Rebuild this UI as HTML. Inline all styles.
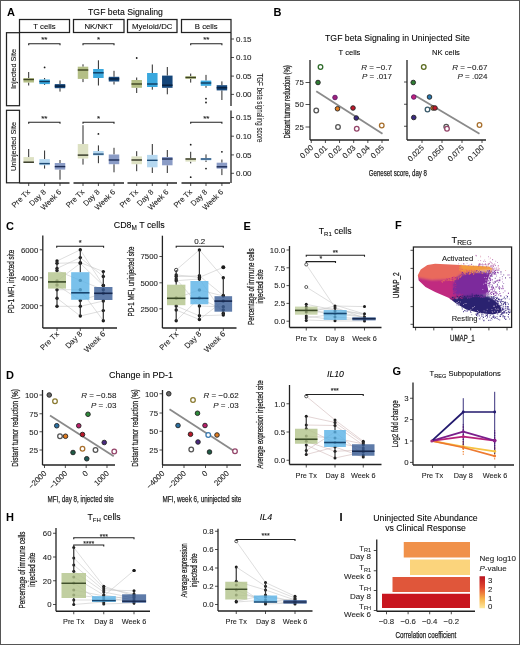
<!DOCTYPE html>
<html><head><meta charset="utf-8"><style>
html,body{margin:0;padding:0;background:#fff;width:520px;height:645px;overflow:hidden}
svg{display:block;will-change:transform}
text{font-family:"Liberation Sans",sans-serif}
</style></head><body>
<svg width="520" height="645" viewBox="0 0 520 645">
<rect width="520" height="645" fill="#fff"/>
<rect x="0.5" y="0.5" width="519" height="644" fill="none" stroke="#555" stroke-width="1"/>
<text x="7" y="16" font-size="11" font-weight="bold">A</text>
<text x="125.5" y="15" font-size="8.7" text-anchor="middle" stroke="#1a1a1a" stroke-width="0.08">TGF beta Signaling</text>
<rect x="19.5" y="19.5" width="50" height="13" fill="none" stroke="#222" stroke-width="1.25"/>
<text x="44.5" y="29.3" font-size="7.8" text-anchor="middle" stroke="#1a1a1a" stroke-width="0.08">T cells</text>
<rect x="73.5" y="19.5" width="50.5" height="13" fill="none" stroke="#222" stroke-width="1.25"/>
<text x="98.75" y="29.3" font-size="7.8" text-anchor="middle" stroke="#1a1a1a" stroke-width="0.08">NK/NKT</text>
<rect x="127.5" y="19.5" width="49.5" height="13" fill="none" stroke="#222" stroke-width="1.25"/>
<text x="152.25" y="29.3" font-size="7.8" text-anchor="middle" stroke="#1a1a1a" stroke-width="0.08">Myeloid/DC</text>
<rect x="181.5" y="19.5" width="49.5" height="13" fill="none" stroke="#222" stroke-width="1.25"/>
<text x="206.25" y="29.3" font-size="7.8" text-anchor="middle" stroke="#1a1a1a" stroke-width="0.08">B cells</text>
<rect x="6.5" y="32.7" width="13" height="73" fill="none" stroke="#222" stroke-width="1.25"/>
<text x="16" y="69" font-size="7.3" text-anchor="middle" transform="rotate(-90 16 69)" stroke="#1a1a1a" stroke-width="0.08">Injected Site</text>
<rect x="6.5" y="110.3" width="13" height="72.5" fill="none" stroke="#222" stroke-width="1.25"/>
<text x="16" y="146.5" font-size="7.3" text-anchor="middle" transform="rotate(-90 16 146.5)" stroke="#1a1a1a" stroke-width="0.08">Uninjected Site</text>
<line x1="28.7" y1="72" x2="28.7" y2="78.1" stroke="#2a2a2a" stroke-width="1"/>
<line x1="28.7" y1="82.5" x2="28.7" y2="85.5" stroke="#2a2a2a" stroke-width="1"/>
<rect x="23.45" y="78.1" width="10.5" height="4.4" fill="#b4bf86"/>
<line x1="23.45" y1="79.5" x2="33.95" y2="79.5" stroke="#3d4220" stroke-width="1.4"/>
<line x1="28.7" y1="149" x2="28.7" y2="157.1" stroke="#2a2a2a" stroke-width="1"/>
<line x1="28.7" y1="163" x2="28.7" y2="163" stroke="#2a2a2a" stroke-width="1"/>
<rect x="23.45" y="157.1" width="10.5" height="5.9" fill="#dde1c3"/>
<line x1="23.45" y1="162.2" x2="33.95" y2="162.2" stroke="#2e3120" stroke-width="1.4"/>
<line x1="44.6" y1="78" x2="44.6" y2="79.5" stroke="#2a2a2a" stroke-width="1"/>
<line x1="44.6" y1="84.1" x2="44.6" y2="85" stroke="#2a2a2a" stroke-width="1"/>
<rect x="39.35" y="79.5" width="10.5" height="4.6" fill="#3aa8de"/>
<line x1="39.35" y1="81.5" x2="49.85" y2="81.5" stroke="#0f3a5e" stroke-width="1.4"/>
<circle cx="44.6" cy="67.4" r="0.9" fill="#1a1a1a"/>
<line x1="44.6" y1="150.5" x2="44.6" y2="159.1" stroke="#2a2a2a" stroke-width="1"/>
<line x1="44.6" y1="165.2" x2="44.6" y2="168.6" stroke="#2a2a2a" stroke-width="1"/>
<rect x="39.35" y="159.1" width="10.5" height="6.1" fill="#b6d8f0"/>
<line x1="39.35" y1="163.6" x2="49.85" y2="163.6" stroke="#1d4a75" stroke-width="1.4"/>
<line x1="60" y1="80.5" x2="60" y2="84.1" stroke="#2a2a2a" stroke-width="1"/>
<line x1="60" y1="88.2" x2="60" y2="91.6" stroke="#2a2a2a" stroke-width="1"/>
<rect x="54.75" y="84.1" width="10.5" height="4.1" fill="#15467a"/>
<line x1="54.75" y1="86.1" x2="65.25" y2="86.1" stroke="#081f3c" stroke-width="1.4"/>
<line x1="60" y1="160" x2="60" y2="163" stroke="#2a2a2a" stroke-width="1"/>
<line x1="60" y1="169.6" x2="60" y2="179.7" stroke="#2a2a2a" stroke-width="1"/>
<rect x="54.75" y="163" width="10.5" height="6.6" fill="#8b9cc6"/>
<line x1="54.75" y1="166.6" x2="65.25" y2="166.6" stroke="#1b2b55" stroke-width="1.4"/>
<line x1="83" y1="64.3" x2="83" y2="66.7" stroke="#2a2a2a" stroke-width="1"/>
<line x1="83" y1="78.9" x2="83" y2="82.1" stroke="#2a2a2a" stroke-width="1"/>
<rect x="77.75" y="66.7" width="10.5" height="12.2" fill="#b4bf86"/>
<line x1="77.75" y1="70" x2="88.25" y2="70" stroke="#3d4220" stroke-width="1.4"/>
<line x1="83" y1="125.2" x2="83" y2="144" stroke="#2a2a2a" stroke-width="1"/>
<line x1="83" y1="158.5" x2="83" y2="164.6" stroke="#2a2a2a" stroke-width="1"/>
<rect x="77.75" y="144" width="10.5" height="14.5" fill="#dde1c3"/>
<line x1="77.75" y1="155.1" x2="88.25" y2="155.1" stroke="#2e3120" stroke-width="1.4"/>
<line x1="98.4" y1="60.3" x2="98.4" y2="69" stroke="#2a2a2a" stroke-width="1"/>
<line x1="98.4" y1="78" x2="98.4" y2="85.5" stroke="#2a2a2a" stroke-width="1"/>
<rect x="93.15" y="69" width="10.5" height="9" fill="#3aa8de"/>
<line x1="93.15" y1="72.8" x2="103.65" y2="72.8" stroke="#0f3a5e" stroke-width="1.4"/>
<line x1="98.4" y1="145.4" x2="98.4" y2="151" stroke="#2a2a2a" stroke-width="1"/>
<line x1="98.4" y1="155.5" x2="98.4" y2="163.2" stroke="#2a2a2a" stroke-width="1"/>
<rect x="93.15" y="151" width="10.5" height="4.5" fill="#b6d8f0"/>
<line x1="93.15" y1="154.1" x2="103.65" y2="154.1" stroke="#1d4a75" stroke-width="1.4"/>
<circle cx="98.4" cy="133.9" r="0.9" fill="#1a1a1a"/>
<line x1="114" y1="70.8" x2="114" y2="76.8" stroke="#2a2a2a" stroke-width="1"/>
<line x1="114" y1="81.5" x2="114" y2="84.5" stroke="#2a2a2a" stroke-width="1"/>
<rect x="108.75" y="76.8" width="10.5" height="4.7" fill="#15467a"/>
<line x1="108.75" y1="78.9" x2="119.25" y2="78.9" stroke="#081f3c" stroke-width="1.4"/>
<line x1="114" y1="147.8" x2="114" y2="154.5" stroke="#2a2a2a" stroke-width="1"/>
<line x1="114" y1="164.2" x2="114" y2="172.3" stroke="#2a2a2a" stroke-width="1"/>
<rect x="108.75" y="154.5" width="10.5" height="9.7" fill="#8b9cc6"/>
<line x1="108.75" y1="160" x2="119.25" y2="160" stroke="#1b2b55" stroke-width="1.4"/>
<line x1="136.7" y1="77.5" x2="136.7" y2="80" stroke="#2a2a2a" stroke-width="1"/>
<line x1="136.7" y1="87.8" x2="136.7" y2="93" stroke="#2a2a2a" stroke-width="1"/>
<rect x="131.45" y="80" width="10.5" height="7.8" fill="#b4bf86"/>
<line x1="131.45" y1="84" x2="141.95" y2="84" stroke="#3d4220" stroke-width="1.4"/>
<circle cx="136.7" cy="58" r="0.9" fill="#1a1a1a"/>
<line x1="136.7" y1="151.2" x2="136.7" y2="156.4" stroke="#2a2a2a" stroke-width="1"/>
<line x1="136.7" y1="164.2" x2="136.7" y2="171.2" stroke="#2a2a2a" stroke-width="1"/>
<rect x="131.45" y="156.4" width="10.5" height="7.8" fill="#dde1c3"/>
<line x1="131.45" y1="160" x2="141.95" y2="160" stroke="#2e3120" stroke-width="1.4"/>
<line x1="152.3" y1="64.5" x2="152.3" y2="73" stroke="#2a2a2a" stroke-width="1"/>
<line x1="152.3" y1="87" x2="152.3" y2="89.7" stroke="#2a2a2a" stroke-width="1"/>
<rect x="147.05" y="73" width="10.5" height="14" fill="#3aa8de"/>
<line x1="147.05" y1="84" x2="157.55" y2="84" stroke="#0f3a5e" stroke-width="1.4"/>
<line x1="152.3" y1="144" x2="152.3" y2="154.9" stroke="#2a2a2a" stroke-width="1"/>
<line x1="152.3" y1="167.3" x2="152.3" y2="173" stroke="#2a2a2a" stroke-width="1"/>
<rect x="147.05" y="154.9" width="10.5" height="12.4" fill="#b6d8f0"/>
<line x1="147.05" y1="160.3" x2="157.55" y2="160.3" stroke="#1d4a75" stroke-width="1.4"/>
<line x1="167.3" y1="67" x2="167.3" y2="75.6" stroke="#2a2a2a" stroke-width="1"/>
<line x1="167.3" y1="87.8" x2="167.3" y2="94.3" stroke="#2a2a2a" stroke-width="1"/>
<rect x="162.05" y="75.6" width="10.5" height="12.2" fill="#15467a"/>
<line x1="162.05" y1="85.2" x2="172.55" y2="85.2" stroke="#081f3c" stroke-width="1.4"/>
<line x1="167.3" y1="150" x2="167.3" y2="157" stroke="#2a2a2a" stroke-width="1"/>
<line x1="167.3" y1="165.3" x2="167.3" y2="173" stroke="#2a2a2a" stroke-width="1"/>
<rect x="162.05" y="157" width="10.5" height="8.3" fill="#8b9cc6"/>
<line x1="162.05" y1="159" x2="172.55" y2="159" stroke="#1b2b55" stroke-width="1.4"/>
<line x1="190.7" y1="73.6" x2="190.7" y2="76.2" stroke="#2a2a2a" stroke-width="1"/>
<line x1="190.7" y1="78.8" x2="190.7" y2="82.6" stroke="#2a2a2a" stroke-width="1"/>
<rect x="185.45" y="76.2" width="10.5" height="2.6" fill="#b4bf86"/>
<line x1="185.45" y1="77.5" x2="195.95" y2="77.5" stroke="#3d4220" stroke-width="1.4"/>
<line x1="190.7" y1="151.8" x2="190.7" y2="158.2" stroke="#2a2a2a" stroke-width="1"/>
<line x1="190.7" y1="161.6" x2="190.7" y2="163.4" stroke="#2a2a2a" stroke-width="1"/>
<rect x="185.45" y="158.2" width="10.5" height="3.4" fill="#dde1c3"/>
<line x1="185.45" y1="159" x2="195.95" y2="159" stroke="#2e3120" stroke-width="1.4"/>
<circle cx="190.7" cy="144.7" r="0.9" fill="#1a1a1a"/>
<circle cx="190.7" cy="177.2" r="0.9" fill="#1a1a1a"/>
<line x1="206" y1="74.9" x2="206" y2="80.6" stroke="#2a2a2a" stroke-width="1"/>
<line x1="206" y1="85.8" x2="206" y2="87.8" stroke="#2a2a2a" stroke-width="1"/>
<rect x="200.75" y="80.6" width="10.5" height="5.2" fill="#3aa8de"/>
<line x1="200.75" y1="83" x2="211.25" y2="83" stroke="#0f3a5e" stroke-width="1.4"/>
<circle cx="206" cy="98.7" r="0.9" fill="#1a1a1a"/>
<circle cx="206" cy="102.5" r="0.9" fill="#1a1a1a"/>
<line x1="206" y1="154.4" x2="206" y2="158.2" stroke="#2a2a2a" stroke-width="1"/>
<line x1="206" y1="160.3" x2="206" y2="162" stroke="#2a2a2a" stroke-width="1"/>
<rect x="200.75" y="158.2" width="10.5" height="2.1" fill="#b6d8f0"/>
<line x1="200.75" y1="159" x2="211.25" y2="159" stroke="#1d4a75" stroke-width="1.4"/>
<circle cx="206" cy="168.6" r="0.9" fill="#1a1a1a"/>
<line x1="221.9" y1="81.4" x2="221.9" y2="85.2" stroke="#2a2a2a" stroke-width="1"/>
<line x1="221.9" y1="90.4" x2="221.9" y2="100" stroke="#2a2a2a" stroke-width="1"/>
<rect x="216.65" y="85.2" width="10.5" height="5.2" fill="#15467a"/>
<line x1="216.65" y1="87.8" x2="227.15" y2="87.8" stroke="#081f3c" stroke-width="1.4"/>
<line x1="221.9" y1="159.5" x2="221.9" y2="162.7" stroke="#2a2a2a" stroke-width="1"/>
<line x1="221.9" y1="168.6" x2="221.9" y2="175.1" stroke="#2a2a2a" stroke-width="1"/>
<rect x="216.65" y="162.7" width="10.5" height="5.9" fill="#8b9cc6"/>
<line x1="216.65" y1="166.8" x2="227.15" y2="166.8" stroke="#1b2b55" stroke-width="1.4"/>
<circle cx="221.9" cy="151.8" r="0.9" fill="#1a1a1a"/>
<polyline points="28.7,45.2 28.7,43.7 60,43.7 60,45.2" stroke="#222" stroke-width="1.1" fill="none"/>
<text x="44.35" y="41.76" font-size="8" text-anchor="middle" fill="#222" stroke="#222" stroke-width="0.12">**</text>
<polyline points="83,45.2 83,43.7 114,43.7 114,45.2" stroke="#222" stroke-width="1.1" fill="none"/>
<text x="98.5" y="41.76" font-size="8" text-anchor="middle" fill="#222" stroke="#222" stroke-width="0.12">*</text>
<polyline points="190.7,45.2 190.7,43.7 221.9,43.7 221.9,45.2" stroke="#222" stroke-width="1.1" fill="none"/>
<text x="206.3" y="41.76" font-size="8" text-anchor="middle" fill="#222" stroke="#222" stroke-width="0.12">**</text>
<polyline points="28.7,123.8 28.7,122.3 60,122.3 60,123.8" stroke="#222" stroke-width="1.1" fill="none"/>
<text x="44.35" y="120.96" font-size="8" text-anchor="middle" fill="#222" stroke="#222" stroke-width="0.12">**</text>
<polyline points="83,123.8 83,122.3 114,122.3 114,123.8" stroke="#222" stroke-width="1.1" fill="none"/>
<text x="98.5" y="120.96" font-size="8" text-anchor="middle" fill="#222" stroke="#222" stroke-width="0.12">*</text>
<polyline points="190.7,123.8 190.7,122.3 221.9,122.3 221.9,123.8" stroke="#222" stroke-width="1.1" fill="none"/>
<text x="206.3" y="120.96" font-size="8" text-anchor="middle" fill="#222" stroke="#222" stroke-width="0.12">**</text>
<line x1="231" y1="33" x2="231" y2="106" stroke="#222" stroke-width="1.3"/>
<line x1="231" y1="39" x2="234" y2="39" stroke="#222" stroke-width="0.8"/>
<text x="236" y="41.7" font-size="8" fill="#222" stroke="#222" stroke-width="0.08">0.15</text>
<line x1="231" y1="57.5" x2="234" y2="57.5" stroke="#222" stroke-width="0.8"/>
<text x="236" y="60.2" font-size="8" fill="#222" stroke="#222" stroke-width="0.08">0.10</text>
<line x1="231" y1="76.1" x2="234" y2="76.1" stroke="#222" stroke-width="0.8"/>
<text x="236" y="78.8" font-size="8" fill="#222" stroke="#222" stroke-width="0.08">0.05</text>
<line x1="231" y1="94.4" x2="234" y2="94.4" stroke="#222" stroke-width="0.8"/>
<text x="236" y="97.1" font-size="8" fill="#222" stroke="#222" stroke-width="0.08">0.00</text>
<line x1="231" y1="110.5" x2="231" y2="183" stroke="#222" stroke-width="1.3"/>
<line x1="231" y1="117.5" x2="234" y2="117.5" stroke="#222" stroke-width="0.8"/>
<text x="236" y="120.2" font-size="8" fill="#222" stroke="#222" stroke-width="0.08">0.15</text>
<line x1="231" y1="136.2" x2="234" y2="136.2" stroke="#222" stroke-width="0.8"/>
<text x="236" y="138.9" font-size="8" fill="#222" stroke="#222" stroke-width="0.08">0.10</text>
<line x1="231" y1="154.9" x2="234" y2="154.9" stroke="#222" stroke-width="0.8"/>
<text x="236" y="157.6" font-size="8" fill="#222" stroke="#222" stroke-width="0.08">0.05</text>
<line x1="231" y1="173.3" x2="234" y2="173.3" stroke="#222" stroke-width="0.8"/>
<text x="236" y="176" font-size="8" fill="#222" stroke="#222" stroke-width="0.08">0.00</text>
<text x="256.5" y="108" font-size="8.5" text-anchor="middle" fill="#222" transform="rotate(90 256.5 108)" textLength="69" lengthAdjust="spacingAndGlyphs" stroke="#222" stroke-width="0.08">TGF beta signaling score</text>
<line x1="19.5" y1="183" x2="69.5" y2="183" stroke="#222" stroke-width="1.3"/>
<line x1="28.7" y1="183" x2="28.7" y2="186" stroke="#222" stroke-width="0.8"/>
<text x="30.5" y="192.5" font-size="7.6" text-anchor="end" fill="#222" transform="rotate(-45 30.5 192.5)" stroke="#222" stroke-width="0.08">Pre Tx</text>
<line x1="44.6" y1="183" x2="44.6" y2="186" stroke="#222" stroke-width="0.8"/>
<text x="46.4" y="192.5" font-size="7.6" text-anchor="end" fill="#222" transform="rotate(-45 46.4 192.5)" stroke="#222" stroke-width="0.08">Day 8</text>
<line x1="60" y1="183" x2="60" y2="186" stroke="#222" stroke-width="0.8"/>
<text x="61.8" y="192.5" font-size="7.6" text-anchor="end" fill="#222" transform="rotate(-45 61.8 192.5)" stroke="#222" stroke-width="0.08">Week 6</text>
<line x1="73.5" y1="183" x2="124" y2="183" stroke="#222" stroke-width="1.3"/>
<line x1="83" y1="183" x2="83" y2="186" stroke="#222" stroke-width="0.8"/>
<text x="84.8" y="192.5" font-size="7.6" text-anchor="end" fill="#222" transform="rotate(-45 84.8 192.5)" stroke="#222" stroke-width="0.08">Pre Tx</text>
<line x1="98.4" y1="183" x2="98.4" y2="186" stroke="#222" stroke-width="0.8"/>
<text x="100.2" y="192.5" font-size="7.6" text-anchor="end" fill="#222" transform="rotate(-45 100.2 192.5)" stroke="#222" stroke-width="0.08">Day 8</text>
<line x1="114" y1="183" x2="114" y2="186" stroke="#222" stroke-width="0.8"/>
<text x="115.8" y="192.5" font-size="7.6" text-anchor="end" fill="#222" transform="rotate(-45 115.8 192.5)" stroke="#222" stroke-width="0.08">Week 6</text>
<line x1="127.5" y1="183" x2="177" y2="183" stroke="#222" stroke-width="1.3"/>
<line x1="136.7" y1="183" x2="136.7" y2="186" stroke="#222" stroke-width="0.8"/>
<text x="138.5" y="192.5" font-size="7.6" text-anchor="end" fill="#222" transform="rotate(-45 138.5 192.5)" stroke="#222" stroke-width="0.08">Pre Tx</text>
<line x1="152.3" y1="183" x2="152.3" y2="186" stroke="#222" stroke-width="0.8"/>
<text x="154.1" y="192.5" font-size="7.6" text-anchor="end" fill="#222" transform="rotate(-45 154.1 192.5)" stroke="#222" stroke-width="0.08">Day 8</text>
<line x1="167.3" y1="183" x2="167.3" y2="186" stroke="#222" stroke-width="0.8"/>
<text x="169.1" y="192.5" font-size="7.6" text-anchor="end" fill="#222" transform="rotate(-45 169.1 192.5)" stroke="#222" stroke-width="0.08">Week 6</text>
<line x1="181.5" y1="183" x2="230" y2="183" stroke="#222" stroke-width="1.3"/>
<line x1="190.7" y1="183" x2="190.7" y2="186" stroke="#222" stroke-width="0.8"/>
<text x="192.5" y="192.5" font-size="7.6" text-anchor="end" fill="#222" transform="rotate(-45 192.5 192.5)" stroke="#222" stroke-width="0.08">Pre Tx</text>
<line x1="206" y1="183" x2="206" y2="186" stroke="#222" stroke-width="0.8"/>
<text x="207.8" y="192.5" font-size="7.6" text-anchor="end" fill="#222" transform="rotate(-45 207.8 192.5)" stroke="#222" stroke-width="0.08">Day 8</text>
<line x1="221.9" y1="183" x2="221.9" y2="186" stroke="#222" stroke-width="0.8"/>
<text x="223.7" y="192.5" font-size="7.6" text-anchor="end" fill="#222" transform="rotate(-45 223.7 192.5)" stroke="#222" stroke-width="0.08">Week 6</text>
<text x="273.5" y="16" font-size="11" font-weight="bold">B</text>
<text x="397.5" y="40.5" font-size="8.7" text-anchor="middle" stroke="#1a1a1a" stroke-width="0.08">TGF beta Signaling in Uninjected Site</text>
<text x="349.5" y="55" font-size="7.6" text-anchor="middle" stroke="#1a1a1a" stroke-width="0.08">T cells</text>
<text x="446" y="55" font-size="7.6" text-anchor="middle" stroke="#1a1a1a" stroke-width="0.08">NK cells</text>
<line x1="310" y1="60" x2="310" y2="140" stroke="#222" stroke-width="1.3"/>
<line x1="310" y1="140" x2="389" y2="140" stroke="#222" stroke-width="1.3"/>
<line x1="305.5" y1="82.5" x2="310" y2="82.5" stroke="#222" stroke-width="0.8"/>
<text x="303.8" y="85.3" font-size="7.8" text-anchor="end" fill="#222" stroke="#222" stroke-width="0.08">75</text>
<line x1="305.5" y1="104.5" x2="310" y2="104.5" stroke="#222" stroke-width="0.8"/>
<text x="303.8" y="107.3" font-size="7.8" text-anchor="end" fill="#222" stroke="#222" stroke-width="0.08">50</text>
<line x1="305.5" y1="127" x2="310" y2="127" stroke="#222" stroke-width="0.8"/>
<text x="303.8" y="129.8" font-size="7.8" text-anchor="end" fill="#222" stroke="#222" stroke-width="0.08">25</text>
<line x1="311.25" y1="140" x2="311.25" y2="143" stroke="#222" stroke-width="0.8"/>
<text x="313.75" y="148.3" font-size="7.8" text-anchor="end" fill="#222" transform="rotate(-45 313.75 148.3)" stroke="#222" stroke-width="0.08">0.00</text>
<line x1="325.4" y1="140" x2="325.4" y2="143" stroke="#222" stroke-width="0.8"/>
<text x="327.9" y="148.3" font-size="7.8" text-anchor="end" fill="#222" transform="rotate(-45 327.9 148.3)" stroke="#222" stroke-width="0.08">0.01</text>
<line x1="339.55" y1="140" x2="339.55" y2="143" stroke="#222" stroke-width="0.8"/>
<text x="342.05" y="148.3" font-size="7.8" text-anchor="end" fill="#222" transform="rotate(-45 342.05 148.3)" stroke="#222" stroke-width="0.08">0.02</text>
<line x1="353.7" y1="140" x2="353.7" y2="143" stroke="#222" stroke-width="0.8"/>
<text x="356.2" y="148.3" font-size="7.8" text-anchor="end" fill="#222" transform="rotate(-45 356.2 148.3)" stroke="#222" stroke-width="0.08">0.03</text>
<line x1="367.85" y1="140" x2="367.85" y2="143" stroke="#222" stroke-width="0.8"/>
<text x="370.35" y="148.3" font-size="7.8" text-anchor="end" fill="#222" transform="rotate(-45 370.35 148.3)" stroke="#222" stroke-width="0.08">0.04</text>
<line x1="382" y1="140" x2="382" y2="143" stroke="#222" stroke-width="0.8"/>
<text x="384.5" y="148.3" font-size="7.8" text-anchor="end" fill="#222" transform="rotate(-45 384.5 148.3)" stroke="#222" stroke-width="0.08">0.05</text>
<line x1="316.25" y1="91.25" x2="382.5" y2="133.75" stroke="#8a8a8a" stroke-width="1.8"/>
<circle cx="320.5" cy="67" r="2.3" fill="#fff" stroke="#2f6b2a" stroke-width="1.3"/>
<circle cx="318" cy="82.5" r="2.3" fill="#2e7d32" stroke="#222" stroke-width="0.9"/>
<circle cx="335" cy="97.5" r="2.3" fill="#a0207a" stroke="#5a1a6a" stroke-width="0.9"/>
<circle cx="316.25" cy="110.5" r="2.3" fill="#fff" stroke="#555" stroke-width="1.3"/>
<circle cx="337.5" cy="108.75" r="2.3" fill="#e07b1f" stroke="#222" stroke-width="0.9"/>
<circle cx="338" cy="127" r="2.3" fill="#fff" stroke="#555" stroke-width="1.3"/>
<circle cx="353" cy="108" r="2.3" fill="#c2182b" stroke="#222" stroke-width="0.9"/>
<circle cx="356.25" cy="118" r="2.3" fill="#3a2a80" stroke="#222" stroke-width="0.9"/>
<circle cx="356.75" cy="128.75" r="2.3" fill="#fff" stroke="#94456a" stroke-width="1.3"/>
<circle cx="381.75" cy="125.5" r="2.3" fill="#fff" stroke="#a8702e" stroke-width="1.3"/>
<text x="290.2" y="101.9" font-size="8.6" text-anchor="middle" fill="#222" transform="rotate(-90 290.2 101.9)" textLength="73.4" lengthAdjust="spacingAndGlyphs" stroke="#222" stroke-width="0.25">Distant tumor reduction (%)</text>
<text x="397.9" y="175.6" font-size="9.4" text-anchor="middle" fill="#222" textLength="58.2" lengthAdjust="spacingAndGlyphs" stroke="#222" stroke-width="0.25">Geneset score, day 8</text>
<text x="392" y="70" font-size="8" text-anchor="end" fill="#222" stroke="#222" stroke-width="0.08"><tspan font-style="italic">R</tspan> = −0.7</text>
<text x="392" y="79" font-size="8" text-anchor="end" fill="#222" stroke="#222" stroke-width="0.08"><tspan font-style="italic">P</tspan> = .017</text>
<line x1="407" y1="60" x2="407" y2="140" stroke="#222" stroke-width="1.3"/>
<line x1="407" y1="140" x2="486" y2="140" stroke="#222" stroke-width="1.3"/>
<line x1="404" y1="82" x2="407" y2="82" stroke="#222" stroke-width="0.8"/>
<line x1="404" y1="104.25" x2="407" y2="104.25" stroke="#222" stroke-width="0.8"/>
<line x1="404" y1="126.25" x2="407" y2="126.25" stroke="#222" stroke-width="0.8"/>
<line x1="422" y1="140" x2="422" y2="143" stroke="#222" stroke-width="0.8"/>
<text x="424.5" y="148.3" font-size="7.8" text-anchor="end" fill="#222" transform="rotate(-45 424.5 148.3)" stroke="#222" stroke-width="0.08">0.025</text>
<line x1="442" y1="140" x2="442" y2="143" stroke="#222" stroke-width="0.8"/>
<text x="444.5" y="148.3" font-size="7.8" text-anchor="end" fill="#222" transform="rotate(-45 444.5 148.3)" stroke="#222" stroke-width="0.08">0.050</text>
<line x1="462" y1="140" x2="462" y2="143" stroke="#222" stroke-width="0.8"/>
<text x="464.5" y="148.3" font-size="7.8" text-anchor="end" fill="#222" transform="rotate(-45 464.5 148.3)" stroke="#222" stroke-width="0.08">0.075</text>
<line x1="482" y1="140" x2="482" y2="143" stroke="#222" stroke-width="0.8"/>
<text x="484.5" y="148.3" font-size="7.8" text-anchor="end" fill="#222" transform="rotate(-45 484.5 148.3)" stroke="#222" stroke-width="0.08">0.100</text>
<line x1="415" y1="95.5" x2="479.5" y2="133.75" stroke="#8a8a8a" stroke-width="1.8"/>
<circle cx="423.75" cy="67" r="2.3" fill="#fff" stroke="#5a6a20" stroke-width="1.3"/>
<circle cx="413.25" cy="82.5" r="2.3" fill="#2e7d32" stroke="#222" stroke-width="0.9"/>
<circle cx="413.75" cy="97" r="2.3" fill="#c2207a" stroke="#5a1a6a" stroke-width="0.9"/>
<circle cx="429.5" cy="97" r="2.3" fill="#2a7ab0" stroke="#222" stroke-width="0.9"/>
<circle cx="427.5" cy="109.5" r="2.3" fill="#fff" stroke="#3a5a6a" stroke-width="1.3"/>
<circle cx="433" cy="108" r="2.3" fill="#e07b1f" stroke="#222" stroke-width="0.9"/>
<circle cx="435" cy="108" r="2.3" fill="#c2182b" stroke="#222" stroke-width="0.9"/>
<circle cx="413.75" cy="117.5" r="2.3" fill="#3a2a80" stroke="#222" stroke-width="0.9"/>
<circle cx="446.25" cy="126.75" r="2.3" fill="#fff" stroke="#555" stroke-width="1.3"/>
<circle cx="447" cy="128.75" r="2.3" fill="#fff" stroke="#94456a" stroke-width="1.3"/>
<circle cx="479.5" cy="125" r="2.3" fill="#fff" stroke="#a8702e" stroke-width="1.3"/>
<text x="487.5" y="70" font-size="8" text-anchor="end" fill="#222" stroke="#222" stroke-width="0.08"><tspan font-style="italic">R</tspan> = −0.67</text>
<text x="487.5" y="79" font-size="8" text-anchor="end" fill="#222" stroke="#222" stroke-width="0.08"><tspan font-style="italic">P</tspan> = .024</text>
<text x="6" y="230" font-size="11" font-weight="bold">C</text>
<text x="113.8" y="228.2" font-size="8.9" stroke="#1a1a1a" stroke-width="0.08">CD8<tspan font-size="6.4" dy="2">M</tspan><tspan dy="-2"> T cells</tspan></text>
<line x1="42.8" y1="235.4" x2="42.8" y2="328" stroke="#222" stroke-width="1.3"/>
<line x1="39.8" y1="249.8" x2="42.8" y2="249.8" stroke="#222" stroke-width="0.8"/>
<text x="38.3" y="252.6" font-size="7.8" text-anchor="end" fill="#222" stroke="#222" stroke-width="0.08">6000</text>
<line x1="39.8" y1="277.8" x2="42.8" y2="277.8" stroke="#222" stroke-width="0.8"/>
<text x="38.3" y="280.6" font-size="7.8" text-anchor="end" fill="#222" stroke="#222" stroke-width="0.08">4000</text>
<line x1="39.8" y1="305.7" x2="42.8" y2="305.7" stroke="#222" stroke-width="0.8"/>
<text x="38.3" y="308.5" font-size="7.8" text-anchor="end" fill="#222" stroke="#222" stroke-width="0.08">2000</text>
<line x1="42.8" y1="328" x2="117" y2="328" stroke="#222" stroke-width="1.3"/>
<polyline points="57,261 80.3,249.8 103.3,285.5" stroke="#c8c8c8" stroke-width="0.6" fill="none"/>
<polyline points="57,263.3 80.3,262.6 103.3,271.6" stroke="#c8c8c8" stroke-width="0.6" fill="none"/>
<polyline points="57,268.4 80.3,257.6 103.3,276.5" stroke="#c8c8c8" stroke-width="0.6" fill="none"/>
<polyline points="57,270.6 80.3,280.4 103.3,289.7" stroke="#c8c8c8" stroke-width="0.6" fill="none"/>
<polyline points="57,285 80.3,300.5 103.3,293.3" stroke="#c8c8c8" stroke-width="0.6" fill="none"/>
<polyline points="57,289.7 80.3,289.7 103.3,320.7" stroke="#c8c8c8" stroke-width="0.6" fill="none"/>
<polyline points="57,298.2 80.3,316 103.3,310.6" stroke="#c8c8c8" stroke-width="0.6" fill="none"/>
<polyline points="57,306.3 80.3,306.3 103.3,301" stroke="#c8c8c8" stroke-width="0.6" fill="none"/>
<polyline points="57,281 80.3,263.3 103.3,285.5" stroke="#c8c8c8" stroke-width="0.6" fill="none"/>
<circle cx="57" cy="261" r="1.7" fill="#1a1a1a"/>
<circle cx="57" cy="263.3" r="1.7" fill="#1a1a1a"/>
<circle cx="57" cy="268.4" r="1.7" fill="#1a1a1a"/>
<circle cx="57" cy="270.6" r="1.7" fill="#1a1a1a"/>
<circle cx="57" cy="285" r="1.7" fill="#1a1a1a"/>
<circle cx="57" cy="289.7" r="1.7" fill="#1a1a1a"/>
<circle cx="57" cy="298.2" r="1.7" fill="#1a1a1a"/>
<circle cx="57" cy="306.3" r="1.7" fill="#1a1a1a"/>
<circle cx="57" cy="281" r="1.7" fill="#1a1a1a"/>
<circle cx="80.3" cy="249.8" r="1.7" fill="#1a1a1a"/>
<circle cx="80.3" cy="262.6" r="1.7" fill="#1a1a1a"/>
<circle cx="80.3" cy="257.6" r="1.7" fill="#1a1a1a"/>
<circle cx="80.3" cy="280.4" r="1.7" fill="#1a1a1a"/>
<circle cx="80.3" cy="300.5" r="1.7" fill="#1a1a1a"/>
<circle cx="80.3" cy="289.7" r="1.7" fill="#1a1a1a"/>
<circle cx="80.3" cy="316" r="1.7" fill="#1a1a1a"/>
<circle cx="80.3" cy="306.3" r="1.7" fill="#1a1a1a"/>
<circle cx="80.3" cy="263.3" r="1.7" fill="#1a1a1a"/>
<circle cx="103.3" cy="285.5" r="1.7" fill="#1a1a1a"/>
<circle cx="103.3" cy="271.6" r="1.7" fill="#1a1a1a"/>
<circle cx="103.3" cy="276.5" r="1.7" fill="#1a1a1a"/>
<circle cx="103.3" cy="289.7" r="1.7" fill="#1a1a1a"/>
<circle cx="103.3" cy="293.3" r="1.7" fill="#1a1a1a"/>
<circle cx="103.3" cy="320.7" r="1.7" fill="#1a1a1a"/>
<circle cx="103.3" cy="310.6" r="1.7" fill="#1a1a1a"/>
<circle cx="103.3" cy="301" r="1.7" fill="#1a1a1a"/>
<circle cx="103.3" cy="285.5" r="1.7" fill="#1a1a1a"/>
<line x1="57" y1="261" x2="57" y2="272.2" stroke="#333" stroke-width="1.2"/>
<line x1="57" y1="288.6" x2="57" y2="306.3" stroke="#333" stroke-width="1.2"/>
<rect x="48" y="272.2" width="18" height="16.4" fill="#b3c48c" fill-opacity="0.82"/>
<line x1="48" y1="281.9" x2="66" y2="281.9" stroke="#3a4a26" stroke-width="1.6"/>
<line x1="80.3" y1="249.8" x2="80.3" y2="272.2" stroke="#333" stroke-width="1.2"/>
<line x1="80.3" y1="299.8" x2="80.3" y2="316" stroke="#333" stroke-width="1.2"/>
<rect x="71.15" y="272.2" width="18.3" height="27.6" fill="#5db3e6" fill-opacity="0.82"/>
<line x1="71.15" y1="292.8" x2="89.45" y2="292.8" stroke="#17466f" stroke-width="1.6"/>
<line x1="103.3" y1="271.6" x2="103.3" y2="287" stroke="#333" stroke-width="1.2"/>
<line x1="103.3" y1="300" x2="103.3" y2="320.7" stroke="#333" stroke-width="1.2"/>
<rect x="94.15" y="287" width="18.3" height="13" fill="#3b5e96" fill-opacity="0.82"/>
<line x1="94.15" y1="293.3" x2="112.45" y2="293.3" stroke="#17284e" stroke-width="1.6"/>
<polyline points="56.7,247.8 56.7,246.3 103.6,246.3 103.6,247.8" stroke="#222" stroke-width="1.1" fill="none"/>
<text x="80.15" y="244.5" font-size="7.5" text-anchor="middle" fill="#222" stroke="#222" stroke-width="0.12">*</text>
<line x1="57" y1="328" x2="57" y2="331" stroke="#222" stroke-width="0.8"/>
<text x="59.5" y="334.5" font-size="7.8" text-anchor="end" fill="#222" transform="rotate(-45 59.5 334.5)" stroke="#222" stroke-width="0.08">Pre Tx</text>
<line x1="80.3" y1="328" x2="80.3" y2="331" stroke="#222" stroke-width="0.8"/>
<text x="82.8" y="334.5" font-size="7.8" text-anchor="end" fill="#222" transform="rotate(-45 82.8 334.5)" stroke="#222" stroke-width="0.08">Day 8</text>
<line x1="103.3" y1="328" x2="103.3" y2="331" stroke="#222" stroke-width="0.8"/>
<text x="105.8" y="334.5" font-size="7.8" text-anchor="end" fill="#222" transform="rotate(-45 105.8 334.5)" stroke="#222" stroke-width="0.08">Week 6</text>
<text x="14.3" y="281.5" font-size="8.6" text-anchor="middle" fill="#222" transform="rotate(-90 14.3 281.5)" textLength="63.6" lengthAdjust="spacingAndGlyphs" stroke="#222" stroke-width="0.25">PD-1 MFI, injected site</text>
<line x1="162.4" y1="235.7" x2="162.4" y2="328" stroke="#222" stroke-width="1.3"/>
<line x1="159.4" y1="256.5" x2="162.4" y2="256.5" stroke="#222" stroke-width="0.8"/>
<text x="157.9" y="259.3" font-size="7.8" text-anchor="end" fill="#222" stroke="#222" stroke-width="0.08">7500</text>
<line x1="159.4" y1="282.8" x2="162.4" y2="282.8" stroke="#222" stroke-width="0.8"/>
<text x="157.9" y="285.6" font-size="7.8" text-anchor="end" fill="#222" stroke="#222" stroke-width="0.08">5000</text>
<line x1="159.4" y1="308.8" x2="162.4" y2="308.8" stroke="#222" stroke-width="0.8"/>
<text x="157.9" y="311.6" font-size="7.8" text-anchor="end" fill="#222" stroke="#222" stroke-width="0.08">2500</text>
<line x1="162.4" y1="328" x2="236.5" y2="328" stroke="#222" stroke-width="1.3"/>
<polyline points="176.2,270 199.4,249.9 223.3,277.7" stroke="#c8c8c8" stroke-width="0.6" fill="none"/>
<polyline points="176.2,274.9 199.4,277.4 223.3,267.3" stroke="#c8c8c8" stroke-width="0.6" fill="none"/>
<polyline points="176.2,276.6 199.4,275.8 223.3,295.4" stroke="#c8c8c8" stroke-width="0.6" fill="none"/>
<polyline points="176.2,279 199.4,306 223.3,306.8" stroke="#c8c8c8" stroke-width="0.6" fill="none"/>
<polyline points="176.2,280.7 199.4,279 223.3,313.3" stroke="#c8c8c8" stroke-width="0.6" fill="none"/>
<polyline points="176.2,306 199.4,315.8 223.3,315" stroke="#c8c8c8" stroke-width="0.6" fill="none"/>
<polyline points="176.2,310 199.4,319.5 223.3,301" stroke="#c8c8c8" stroke-width="0.6" fill="none"/>
<polyline points="176.2,320.7 199.4,298 223.3,310" stroke="#c8c8c8" stroke-width="0.6" fill="none"/>
<polyline points="176.2,298 199.4,290 223.3,296" stroke="#c8c8c8" stroke-width="0.6" fill="none"/>
<circle cx="176.2" cy="270" r="1.7" fill="#1a1a1a"/>
<circle cx="176.2" cy="274.9" r="1.7" fill="#1a1a1a"/>
<circle cx="176.2" cy="276.6" r="1.7" fill="#1a1a1a"/>
<circle cx="176.2" cy="279" r="1.7" fill="#1a1a1a"/>
<circle cx="176.2" cy="280.7" r="1.7" fill="#1a1a1a"/>
<circle cx="176.2" cy="306" r="1.7" fill="#1a1a1a"/>
<circle cx="176.2" cy="310" r="1.7" fill="#1a1a1a"/>
<circle cx="176.2" cy="320.7" r="1.7" fill="#1a1a1a"/>
<circle cx="176.2" cy="298" r="1.7" fill="#1a1a1a"/>
<circle cx="199.4" cy="249.9" r="1.7" fill="#1a1a1a"/>
<circle cx="199.4" cy="277.4" r="1.7" fill="#1a1a1a"/>
<circle cx="199.4" cy="275.8" r="1.7" fill="#1a1a1a"/>
<circle cx="199.4" cy="306" r="1.7" fill="#1a1a1a"/>
<circle cx="199.4" cy="279" r="1.7" fill="#1a1a1a"/>
<circle cx="199.4" cy="315.8" r="1.7" fill="#1a1a1a"/>
<circle cx="199.4" cy="319.5" r="1.7" fill="#1a1a1a"/>
<circle cx="199.4" cy="298" r="1.7" fill="#1a1a1a"/>
<circle cx="199.4" cy="290" r="1.7" fill="#1a1a1a"/>
<circle cx="223.3" cy="277.7" r="1.7" fill="#1a1a1a"/>
<circle cx="223.3" cy="295.4" r="1.7" fill="#1a1a1a"/>
<circle cx="223.3" cy="306.8" r="1.7" fill="#1a1a1a"/>
<circle cx="223.3" cy="313.3" r="1.7" fill="#1a1a1a"/>
<circle cx="223.3" cy="315" r="1.7" fill="#1a1a1a"/>
<circle cx="223.3" cy="301" r="1.7" fill="#1a1a1a"/>
<circle cx="223.3" cy="310" r="1.7" fill="#1a1a1a"/>
<circle cx="223.3" cy="296" r="1.7" fill="#1a1a1a"/>
<circle cx="223.3" cy="267.3" r="2" fill="#1a1a1a"/>
<circle cx="176.2" cy="270" r="1.7" fill="#fff" stroke="#333" stroke-width="0.8"/>
<line x1="176.2" y1="270" x2="176.2" y2="284.7" stroke="#333" stroke-width="1.2"/>
<line x1="176.2" y1="305.2" x2="176.2" y2="320.7" stroke="#333" stroke-width="1.2"/>
<rect x="167" y="284.7" width="18.4" height="20.5" fill="#b3c48c" fill-opacity="0.82"/>
<line x1="167" y1="298.3" x2="185.4" y2="298.3" stroke="#3a4a26" stroke-width="1.6"/>
<line x1="199.4" y1="249.9" x2="199.4" y2="281" stroke="#333" stroke-width="1.2"/>
<line x1="199.4" y1="304.3" x2="199.4" y2="319.5" stroke="#333" stroke-width="1.2"/>
<rect x="190.4" y="281" width="18" height="23.3" fill="#5db3e6" fill-opacity="0.82"/>
<line x1="190.4" y1="298.3" x2="208.4" y2="298.3" stroke="#17466f" stroke-width="1.6"/>
<line x1="223.3" y1="277.7" x2="223.3" y2="296.2" stroke="#333" stroke-width="1.2"/>
<line x1="223.3" y1="311.7" x2="223.3" y2="315" stroke="#333" stroke-width="1.2"/>
<rect x="214.5" y="296.2" width="17.6" height="15.5" fill="#3b5e96" fill-opacity="0.82"/>
<line x1="214.5" y1="301.1" x2="232.1" y2="301.1" stroke="#17284e" stroke-width="1.6"/>
<polyline points="176.2,247.8 176.2,246.3 223.3,246.3 223.3,247.8" stroke="#222" stroke-width="1.1" fill="none"/>
<text x="199.75" y="244.4" font-size="8" text-anchor="middle" fill="#222" stroke="#222" stroke-width="0.08">0.2</text>
<line x1="176.2" y1="328" x2="176.2" y2="331" stroke="#222" stroke-width="0.8"/>
<text x="178.7" y="334.5" font-size="7.8" text-anchor="end" fill="#222" transform="rotate(-45 178.7 334.5)" stroke="#222" stroke-width="0.08">Pre Tx</text>
<line x1="199.4" y1="328" x2="199.4" y2="331" stroke="#222" stroke-width="0.8"/>
<text x="201.9" y="334.5" font-size="7.8" text-anchor="end" fill="#222" transform="rotate(-45 201.9 334.5)" stroke="#222" stroke-width="0.08">Day 8</text>
<line x1="223.3" y1="328" x2="223.3" y2="331" stroke="#222" stroke-width="0.8"/>
<text x="225.8" y="334.5" font-size="7.8" text-anchor="end" fill="#222" transform="rotate(-45 225.8 334.5)" stroke="#222" stroke-width="0.08">Week 6</text>
<text x="133.5" y="281.5" font-size="8.6" text-anchor="middle" fill="#222" transform="rotate(-90 133.5 281.5)" textLength="69.8" lengthAdjust="spacingAndGlyphs" stroke="#222" stroke-width="0.25">PD-1 MFI, uninjected site</text>
<text x="6" y="379" font-size="11" font-weight="bold">D</text>
<text x="141" y="378" font-size="9" text-anchor="middle" stroke="#1a1a1a" stroke-width="0.08">Change in PD-1</text>
<line x1="42.5" y1="390" x2="42.5" y2="465" stroke="#222" stroke-width="1.3"/>
<line x1="39.5" y1="395" x2="42.5" y2="395" stroke="#222" stroke-width="0.8"/>
<text x="38" y="397.8" font-size="7.8" text-anchor="end" fill="#222" stroke="#222" stroke-width="0.08">100</text>
<line x1="39.5" y1="413.75" x2="42.5" y2="413.75" stroke="#222" stroke-width="0.8"/>
<text x="38" y="416.55" font-size="7.8" text-anchor="end" fill="#222" stroke="#222" stroke-width="0.08">75</text>
<line x1="39.5" y1="431.75" x2="42.5" y2="431.75" stroke="#222" stroke-width="0.8"/>
<text x="38" y="434.55" font-size="7.8" text-anchor="end" fill="#222" stroke="#222" stroke-width="0.08">50</text>
<line x1="39.5" y1="450" x2="42.5" y2="450" stroke="#222" stroke-width="0.8"/>
<text x="38" y="452.8" font-size="7.8" text-anchor="end" fill="#222" stroke="#222" stroke-width="0.08">25</text>
<line x1="42.5" y1="465" x2="115" y2="465" stroke="#222" stroke-width="1.3"/>
<line x1="44.5" y1="465" x2="44.5" y2="468" stroke="#222" stroke-width="0.8"/>
<text x="47" y="474" font-size="7.8" text-anchor="end" fill="#222" transform="rotate(-45 47 474)" stroke="#222" stroke-width="0.08">−2000</text>
<line x1="65.33" y1="465" x2="65.33" y2="468" stroke="#222" stroke-width="0.8"/>
<text x="67.83" y="474" font-size="7.8" text-anchor="end" fill="#222" transform="rotate(-45 67.83 474)" stroke="#222" stroke-width="0.08">−1000</text>
<line x1="86.16" y1="465" x2="86.16" y2="468" stroke="#222" stroke-width="0.8"/>
<text x="88.66" y="474" font-size="7.8" text-anchor="end" fill="#222" transform="rotate(-45 88.66 474)" stroke="#222" stroke-width="0.08">0</text>
<line x1="106.99" y1="465" x2="106.99" y2="468" stroke="#222" stroke-width="0.8"/>
<text x="109.49" y="474" font-size="7.8" text-anchor="end" fill="#222" transform="rotate(-45 109.49 474)" stroke="#222" stroke-width="0.08">1000</text>
<line x1="50" y1="415.5" x2="113.75" y2="456.25" stroke="#8a8a8a" stroke-width="1.8"/>
<circle cx="49.25" cy="395" r="2.3" fill="#666" stroke="#222" stroke-width="0.9"/>
<circle cx="55" cy="401.25" r="2.3" fill="#fff" stroke="#8a7a30" stroke-width="1.3"/>
<circle cx="88" cy="414.25" r="2.3" fill="#2e8b3a" stroke="#222" stroke-width="0.9"/>
<circle cx="56.75" cy="425.75" r="2.3" fill="#2a6fa0" stroke="#222" stroke-width="0.9"/>
<circle cx="78.75" cy="425.75" r="2.3" fill="#b8206a" stroke="#222" stroke-width="0.9"/>
<circle cx="60" cy="436.25" r="2.3" fill="#fff" stroke="#555" stroke-width="1.3"/>
<circle cx="65.5" cy="436.25" r="2.3" fill="#e07b1f" stroke="#222" stroke-width="0.9"/>
<circle cx="82.5" cy="434.5" r="2.3" fill="#b81828" stroke="#222" stroke-width="0.9"/>
<circle cx="104.25" cy="442.5" r="2.3" fill="#4a2a80" stroke="#222" stroke-width="0.9"/>
<circle cx="82.5" cy="448.75" r="2.3" fill="#fff" stroke="#a8702e" stroke-width="1.3"/>
<circle cx="95.5" cy="450" r="2.3" fill="#fff" stroke="#555" stroke-width="1.3"/>
<circle cx="114.25" cy="451.5" r="2.3" fill="#fff" stroke="#94456a" stroke-width="1.3"/>
<circle cx="73" cy="452.5" r="2.3" fill="#1f5a45" stroke="#222" stroke-width="0.9"/>
<circle cx="86.75" cy="458.75" r="2.3" fill="#1f5a55" stroke="#222" stroke-width="0.9"/>
<text x="116.5" y="397.5" font-size="8" text-anchor="end" fill="#222" stroke="#222" stroke-width="0.08"><tspan font-style="italic">R</tspan> = −0.58</text>
<text x="116.5" y="407.5" font-size="8" text-anchor="end" fill="#222" stroke="#222" stroke-width="0.08"><tspan font-style="italic">P</tspan> = .03</text>
<text x="18.1" y="428" font-size="8.6" text-anchor="middle" fill="#222" transform="rotate(-90 18.1 428)" textLength="77.5" lengthAdjust="spacingAndGlyphs" stroke="#222" stroke-width="0.25">Distant tumor reduction (%)</text>
<text x="80.6" y="501.8" font-size="9.4" text-anchor="middle" fill="#222" textLength="66.2" lengthAdjust="spacingAndGlyphs" stroke="#222" stroke-width="0.25">MFI, day 8, injected site</text>
<line x1="162.5" y1="390" x2="162.5" y2="465" stroke="#222" stroke-width="1.3"/>
<line x1="159.5" y1="393.75" x2="162.5" y2="393.75" stroke="#222" stroke-width="0.8"/>
<text x="158" y="396.55" font-size="7.8" text-anchor="end" fill="#222" stroke="#222" stroke-width="0.08">100</text>
<line x1="159.5" y1="413" x2="162.5" y2="413" stroke="#222" stroke-width="0.8"/>
<text x="158" y="415.8" font-size="7.8" text-anchor="end" fill="#222" stroke="#222" stroke-width="0.08">75</text>
<line x1="159.5" y1="431.25" x2="162.5" y2="431.25" stroke="#222" stroke-width="0.8"/>
<text x="158" y="434.05" font-size="7.8" text-anchor="end" fill="#222" stroke="#222" stroke-width="0.08">50</text>
<line x1="159.5" y1="450" x2="162.5" y2="450" stroke="#222" stroke-width="0.8"/>
<text x="158" y="452.8" font-size="7.8" text-anchor="end" fill="#222" stroke="#222" stroke-width="0.08">25</text>
<line x1="162.5" y1="465" x2="241" y2="465" stroke="#222" stroke-width="1.3"/>
<line x1="162.5" y1="465" x2="162.5" y2="468" stroke="#222" stroke-width="0.8"/>
<text x="165" y="474" font-size="7.8" text-anchor="end" fill="#222" transform="rotate(-45 165 474)" stroke="#222" stroke-width="0.08">−4000</text>
<line x1="184" y1="465" x2="184" y2="468" stroke="#222" stroke-width="0.8"/>
<text x="186.5" y="474" font-size="7.8" text-anchor="end" fill="#222" transform="rotate(-45 186.5 474)" stroke="#222" stroke-width="0.08">−2000</text>
<line x1="205.5" y1="465" x2="205.5" y2="468" stroke="#222" stroke-width="0.8"/>
<text x="208" y="474" font-size="7.8" text-anchor="end" fill="#222" transform="rotate(-45 208 474)" stroke="#222" stroke-width="0.08">0</text>
<line x1="227" y1="465" x2="227" y2="468" stroke="#222" stroke-width="0.8"/>
<text x="229.5" y="474" font-size="7.8" text-anchor="end" fill="#222" transform="rotate(-45 229.5 474)" stroke="#222" stroke-width="0.08">2000</text>
<line x1="169.5" y1="409.25" x2="236.25" y2="452.5" stroke="#8a8a8a" stroke-width="1.8"/>
<circle cx="168.75" cy="393.75" r="2.3" fill="#666" stroke="#222" stroke-width="0.9"/>
<circle cx="193" cy="400" r="2.3" fill="#fff" stroke="#8a7a30" stroke-width="1.3"/>
<circle cx="197.5" cy="413.25" r="2.3" fill="#2e8b3a" stroke="#222" stroke-width="0.9"/>
<circle cx="178" cy="425.5" r="2.3" fill="#2a6fa0" stroke="#222" stroke-width="0.9"/>
<circle cx="205" cy="425.5" r="2.3" fill="#b8206a" stroke="#222" stroke-width="0.9"/>
<circle cx="190.5" cy="434.25" r="2.3" fill="#b81828" stroke="#222" stroke-width="0.9"/>
<circle cx="208.25" cy="435" r="2.3" fill="#fff" stroke="#3a7ab0" stroke-width="1.3"/>
<circle cx="217" cy="435" r="2.3" fill="#e07b1f" stroke="#222" stroke-width="0.9"/>
<circle cx="198" cy="442" r="2.3" fill="#4a2a80" stroke="#222" stroke-width="0.9"/>
<circle cx="191.25" cy="449.5" r="2.3" fill="#fff" stroke="#555" stroke-width="1.3"/>
<circle cx="209.5" cy="452" r="2.3" fill="#1f5a45" stroke="#222" stroke-width="0.9"/>
<circle cx="235" cy="451.25" r="2.3" fill="#fff" stroke="#94456a" stroke-width="1.3"/>
<text x="238.75" y="397.5" font-size="8" text-anchor="end" fill="#222" stroke="#222" stroke-width="0.08"><tspan font-style="italic">R</tspan> = −0.62</text>
<text x="238.75" y="407.5" font-size="8" text-anchor="end" fill="#222" stroke="#222" stroke-width="0.08"><tspan font-style="italic">P</tspan> = .03</text>
<text x="137.7" y="428" font-size="8.6" text-anchor="middle" fill="#222" transform="rotate(-90 137.7 428)" textLength="77.5" lengthAdjust="spacingAndGlyphs" stroke="#222" stroke-width="0.25">Distant tumor reduction (%)</text>
<text x="201.9" y="501.8" font-size="9.4" text-anchor="middle" fill="#222" textLength="78.8" lengthAdjust="spacingAndGlyphs" stroke="#222" stroke-width="0.25">MFI, week 6, uninjected site</text>
<text x="243.5" y="230" font-size="11" font-weight="bold">E</text>
<text x="318.75" y="233.75" font-size="8.7" stroke="#1a1a1a" stroke-width="0.08">T<tspan font-size="6" dy="2">R1</tspan><tspan dy="-2"> cells</tspan></text>
<line x1="289.5" y1="246" x2="289.5" y2="327.5" stroke="#222" stroke-width="1.3"/>
<line x1="286.5" y1="250" x2="289.5" y2="250" stroke="#222" stroke-width="0.8"/>
<text x="285" y="252.8" font-size="7.8" text-anchor="end" fill="#222" stroke="#222" stroke-width="0.08">10.0</text>
<line x1="286.5" y1="267.8" x2="289.5" y2="267.8" stroke="#222" stroke-width="0.8"/>
<text x="285" y="270.6" font-size="7.8" text-anchor="end" fill="#222" stroke="#222" stroke-width="0.08">7.5</text>
<line x1="286.5" y1="285.6" x2="289.5" y2="285.6" stroke="#222" stroke-width="0.8"/>
<text x="285" y="288.4" font-size="7.8" text-anchor="end" fill="#222" stroke="#222" stroke-width="0.08">5.0</text>
<line x1="286.5" y1="303.4" x2="289.5" y2="303.4" stroke="#222" stroke-width="0.8"/>
<text x="285" y="306.2" font-size="7.8" text-anchor="end" fill="#222" stroke="#222" stroke-width="0.08">2.5</text>
<line x1="286.5" y1="321.2" x2="289.5" y2="321.2" stroke="#222" stroke-width="0.8"/>
<text x="285" y="324" font-size="7.8" text-anchor="end" fill="#222" stroke="#222" stroke-width="0.08">0.0</text>
<line x1="289.5" y1="327.5" x2="381.5" y2="327.5" stroke="#222" stroke-width="1.3"/>
<line x1="306.25" y1="327.5" x2="306.25" y2="330.5" stroke="#222" stroke-width="0.8"/>
<text x="306.25" y="340.5" font-size="7.3" text-anchor="middle" fill="#222" stroke="#222" stroke-width="0.08">Pre Tx</text>
<line x1="335" y1="327.5" x2="335" y2="330.5" stroke="#222" stroke-width="0.8"/>
<text x="335" y="340.5" font-size="7.3" text-anchor="middle" fill="#222" stroke="#222" stroke-width="0.08">Day 8</text>
<line x1="364.5" y1="327.5" x2="364.5" y2="330.5" stroke="#222" stroke-width="0.8"/>
<text x="364.5" y="340.5" font-size="7.3" text-anchor="middle" fill="#222" stroke="#222" stroke-width="0.08">Week 6</text>
<polyline points="306.25,264.5 335,307.5 364.5,318" stroke="#c8c8c8" stroke-width="0.6" fill="none"/>
<polyline points="306.25,287 335,305 364.5,314" stroke="#c8c8c8" stroke-width="0.6" fill="none"/>
<polyline points="306.25,312 335,312 364.5,317" stroke="#c8c8c8" stroke-width="0.6" fill="none"/>
<polyline points="306.25,313 335,306 364.5,306.6" stroke="#c8c8c8" stroke-width="0.6" fill="none"/>
<polyline points="306.25,309 335,309 364.5,315" stroke="#c8c8c8" stroke-width="0.6" fill="none"/>
<polyline points="306.25,316 335,320 364.5,318.5" stroke="#c8c8c8" stroke-width="0.6" fill="none"/>
<polyline points="306.25,318 335,314 364.5,317" stroke="#c8c8c8" stroke-width="0.6" fill="none"/>
<polyline points="306.25,307 335,317 364.5,319" stroke="#c8c8c8" stroke-width="0.6" fill="none"/>
<polyline points="306.25,320 335,321 364.5,321" stroke="#c8c8c8" stroke-width="0.6" fill="none"/>
<polyline points="306.25,304.3 335,310 364.5,313.8" stroke="#c8c8c8" stroke-width="0.6" fill="none"/>
<circle cx="306.25" cy="304.3" r="1.5" fill="#1a1a1a"/>
<circle cx="306.25" cy="307" r="1.5" fill="#1a1a1a"/>
<circle cx="306.25" cy="309" r="1.5" fill="#1a1a1a"/>
<circle cx="306.25" cy="312" r="1.5" fill="#1a1a1a"/>
<circle cx="306.25" cy="316" r="1.5" fill="#1a1a1a"/>
<circle cx="306.25" cy="318" r="1.5" fill="#1a1a1a"/>
<circle cx="306.25" cy="320.4" r="1.5" fill="#1a1a1a"/>
<circle cx="306.25" cy="264.5" r="1.5" fill="#fff" stroke="#333" stroke-width="0.8"/>
<circle cx="306.25" cy="287" r="1.5" fill="#fff" stroke="#333" stroke-width="0.8"/>
<circle cx="335" cy="306" r="1.5" fill="#1a1a1a"/>
<circle cx="335" cy="308" r="1.5" fill="#1a1a1a"/>
<circle cx="335" cy="311" r="1.5" fill="#1a1a1a"/>
<circle cx="335" cy="314" r="1.5" fill="#1a1a1a"/>
<circle cx="335" cy="317" r="1.5" fill="#1a1a1a"/>
<circle cx="335" cy="320.7" r="1.5" fill="#1a1a1a"/>
<circle cx="364.5" cy="306.6" r="1.5" fill="#1a1a1a"/>
<circle cx="364.5" cy="313.8" r="1.5" fill="#1a1a1a"/>
<circle cx="364.5" cy="317" r="1.5" fill="#1a1a1a"/>
<circle cx="364.5" cy="319" r="1.5" fill="#1a1a1a"/>
<circle cx="364.5" cy="321" r="1.5" fill="#1a1a1a"/>
<line x1="306.25" y1="304.3" x2="306.25" y2="306.6" stroke="#333" stroke-width="1.2"/>
<line x1="306.25" y1="314.7" x2="306.25" y2="320.4" stroke="#333" stroke-width="1.2"/>
<rect x="295" y="306.6" width="22.5" height="8.1" fill="#b3c48c" fill-opacity="0.7"/>
<line x1="295" y1="310.4" x2="317.5" y2="310.4" stroke="#3a4a26" stroke-width="1.6"/>
<line x1="335.2" y1="306" x2="335.2" y2="310" stroke="#333" stroke-width="1.2"/>
<line x1="335.2" y1="319.9" x2="335.2" y2="320.7" stroke="#333" stroke-width="1.2"/>
<rect x="323.7" y="310" width="23" height="9.9" fill="#5db3e6" fill-opacity="0.75"/>
<line x1="323.7" y1="313.5" x2="346.7" y2="313.5" stroke="#17466f" stroke-width="1.6"/>
<line x1="364" y1="315" x2="364" y2="317.3" stroke="#333" stroke-width="1.2"/>
<line x1="364" y1="320.4" x2="364" y2="321" stroke="#333" stroke-width="1.2"/>
<rect x="352.35" y="317.3" width="23.3" height="3.1" fill="#3b5e96" fill-opacity="0.82"/>
<line x1="352.35" y1="318.7" x2="375.65" y2="318.7" stroke="#17284e" stroke-width="1.6"/>
<polyline points="306.25,256.8 306.25,255.3 364.5,255.3 364.5,256.8" stroke="#222" stroke-width="1.1" fill="none"/>
<text x="335.38" y="254.84" font-size="7" text-anchor="middle" fill="#222" stroke="#222" stroke-width="0.12">**</text>
<polyline points="306.25,263.1 306.25,261.6 335.5,261.6 335.5,263.1" stroke="#222" stroke-width="1.1" fill="none"/>
<text x="320.88" y="261.44" font-size="7" text-anchor="middle" fill="#222" stroke="#222" stroke-width="0.12">*</text>
<text x="253.9" y="286.7" font-size="8.6" text-anchor="middle" fill="#222" transform="rotate(-90 253.9 286.7)" textLength="76.5" lengthAdjust="spacingAndGlyphs" stroke="#222" stroke-width="0.25">Percentage of immune cells</text>
<text x="262.8" y="286.5" font-size="8.6" text-anchor="middle" fill="#222" transform="rotate(-90 262.8 286.5)" textLength="34" lengthAdjust="spacingAndGlyphs" stroke="#222" stroke-width="0.25">injected site</text>
<text x="335.5" y="377" font-size="8.7" text-anchor="middle" font-style="italic" stroke="#1a1a1a" stroke-width="0.08">IL10</text>
<line x1="289.5" y1="385" x2="289.5" y2="464.5" stroke="#222" stroke-width="1.3"/>
<line x1="286.5" y1="403.75" x2="289.5" y2="403.75" stroke="#222" stroke-width="0.8"/>
<text x="285" y="406.55" font-size="7.8" text-anchor="end" fill="#222" stroke="#222" stroke-width="0.08">1.0</text>
<line x1="286.5" y1="432" x2="289.5" y2="432" stroke="#222" stroke-width="0.8"/>
<text x="285" y="434.8" font-size="7.8" text-anchor="end" fill="#222" stroke="#222" stroke-width="0.08">0.5</text>
<line x1="286.5" y1="460.25" x2="289.5" y2="460.25" stroke="#222" stroke-width="0.8"/>
<text x="285" y="463.05" font-size="7.8" text-anchor="end" fill="#222" stroke="#222" stroke-width="0.08">0.0</text>
<line x1="289.5" y1="464.5" x2="381.5" y2="464.5" stroke="#222" stroke-width="1.3"/>
<line x1="306.25" y1="464.5" x2="306.25" y2="467.5" stroke="#222" stroke-width="0.8"/>
<text x="306.25" y="477.5" font-size="7.3" text-anchor="middle" fill="#222" stroke="#222" stroke-width="0.08">Pre Tx</text>
<line x1="335" y1="464.5" x2="335" y2="467.5" stroke="#222" stroke-width="0.8"/>
<text x="335" y="477.5" font-size="7.3" text-anchor="middle" fill="#222" stroke="#222" stroke-width="0.08">Day 8</text>
<line x1="363.25" y1="464.5" x2="363.25" y2="467.5" stroke="#222" stroke-width="0.8"/>
<text x="363.25" y="477.5" font-size="7.3" text-anchor="middle" fill="#222" stroke="#222" stroke-width="0.08">Week 6</text>
<polyline points="306.25,396.25 335,420 363.25,441.25" stroke="#d0b8b8" stroke-width="0.6" fill="none"/>
<polyline points="306.25,416.25 335,422.5 363.25,442.5" stroke="#d0b8b8" stroke-width="0.6" fill="none"/>
<polyline points="306.25,425 335,425.5 363.25,445" stroke="#d0b8b8" stroke-width="0.6" fill="none"/>
<polyline points="306.25,428.75 335,442.5 363.25,448" stroke="#d0b8b8" stroke-width="0.6" fill="none"/>
<polyline points="306.25,441.25 335,451.25 363.25,450" stroke="#d0b8b8" stroke-width="0.6" fill="none"/>
<polyline points="306.25,445 335,458 363.25,452" stroke="#d0b8b8" stroke-width="0.6" fill="none"/>
<polyline points="306.25,450.5 335,432 363.25,455" stroke="#d0b8b8" stroke-width="0.6" fill="none"/>
<polyline points="306.25,454.5 335,447 363.25,457" stroke="#d0b8b8" stroke-width="0.6" fill="none"/>
<polyline points="306.25,436 335,438 363.25,444" stroke="#d0b8b8" stroke-width="0.6" fill="none"/>
<circle cx="306.25" cy="416.25" r="1.5" fill="#1a1a1a"/>
<circle cx="306.25" cy="425" r="1.5" fill="#1a1a1a"/>
<circle cx="306.25" cy="428.75" r="1.5" fill="#1a1a1a"/>
<circle cx="306.25" cy="441.25" r="1.5" fill="#1a1a1a"/>
<circle cx="306.25" cy="445" r="1.5" fill="#1a1a1a"/>
<circle cx="306.25" cy="450.5" r="1.5" fill="#1a1a1a"/>
<circle cx="306.25" cy="454.5" r="1.5" fill="#1a1a1a"/>
<circle cx="306.25" cy="436" r="1.5" fill="#1a1a1a"/>
<circle cx="306.25" cy="396.25" r="1.6" fill="#fff" stroke="#333" stroke-width="0.8"/>
<circle cx="335" cy="420" r="1.5" fill="#1a1a1a"/>
<circle cx="335" cy="422.5" r="1.5" fill="#1a1a1a"/>
<circle cx="335" cy="425.5" r="1.5" fill="#1a1a1a"/>
<circle cx="335" cy="442.5" r="1.5" fill="#1a1a1a"/>
<circle cx="335" cy="451.25" r="1.5" fill="#1a1a1a"/>
<circle cx="335" cy="458" r="1.5" fill="#1a1a1a"/>
<circle cx="335" cy="432" r="1.5" fill="#1a1a1a"/>
<circle cx="335" cy="447" r="1.5" fill="#1a1a1a"/>
<circle cx="335" cy="438" r="1.5" fill="#1a1a1a"/>
<circle cx="363.25" cy="441.25" r="1.5" fill="#1a1a1a"/>
<circle cx="363.25" cy="442.5" r="1.5" fill="#1a1a1a"/>
<circle cx="363.25" cy="445" r="1.5" fill="#1a1a1a"/>
<circle cx="363.25" cy="448" r="1.5" fill="#1a1a1a"/>
<circle cx="363.25" cy="450" r="1.5" fill="#1a1a1a"/>
<circle cx="363.25" cy="452" r="1.5" fill="#1a1a1a"/>
<circle cx="363.25" cy="455" r="1.5" fill="#1a1a1a"/>
<circle cx="363.25" cy="457" r="1.5" fill="#1a1a1a"/>
<circle cx="363.25" cy="444" r="1.5" fill="#1a1a1a"/>
<line x1="306.25" y1="416.25" x2="306.25" y2="428.75" stroke="#333" stroke-width="1.2"/>
<line x1="306.25" y1="443.75" x2="306.25" y2="454.5" stroke="#333" stroke-width="1.2"/>
<rect x="295" y="428.75" width="22.5" height="15" fill="#b3c48c" fill-opacity="0.82"/>
<line x1="295" y1="439.25" x2="317.5" y2="439.25" stroke="#3a4a26" stroke-width="1.6"/>
<line x1="335" y1="420" x2="335" y2="430" stroke="#333" stroke-width="1.2"/>
<line x1="335" y1="447" x2="335" y2="458" stroke="#333" stroke-width="1.2"/>
<rect x="324.12" y="430" width="21.75" height="17" fill="#5db3e6" fill-opacity="0.82"/>
<line x1="324.12" y1="442.5" x2="345.88" y2="442.5" stroke="#17466f" stroke-width="1.6"/>
<line x1="363.25" y1="441.25" x2="363.25" y2="444.25" stroke="#333" stroke-width="1.2"/>
<line x1="363.25" y1="455.75" x2="363.25" y2="457.5" stroke="#333" stroke-width="1.2"/>
<rect x="352" y="444.25" width="22.5" height="11.5" fill="#3b5e96" fill-opacity="0.82"/>
<line x1="352" y1="451.25" x2="374.5" y2="451.25" stroke="#17284e" stroke-width="1.6"/>
<polyline points="306.25,396 306.25,394.5 363.25,394.5 363.25,396" stroke="#222" stroke-width="1.1" fill="none"/>
<text x="334.75" y="392.54" font-size="7" text-anchor="middle" fill="#222" stroke="#222" stroke-width="0.12">***</text>
<text x="263.4" y="424.6" font-size="8.6" text-anchor="middle" fill="#222" transform="rotate(-90 263.4 424.6)" textLength="88.4" lengthAdjust="spacingAndGlyphs" stroke="#222" stroke-width="0.25">Average expression injected site</text>
<text x="395" y="228.75" font-size="11" font-weight="bold">F</text>
<text x="451.5" y="242.5" font-size="9.2" stroke="#1a1a1a" stroke-width="0.08">T<tspan font-size="6.8" dy="2.2">REG</tspan></text>
<rect x="413.4" y="247" width="98.2" height="80.4" fill="none" stroke="#222" stroke-width="1.25"/>
<line x1="410.5" y1="250.3" x2="413.4" y2="250.3" stroke="#222" stroke-width="0.8"/>
<line x1="410.5" y1="268.4" x2="413.4" y2="268.4" stroke="#222" stroke-width="0.8"/>
<line x1="410.5" y1="287.4" x2="413.4" y2="287.4" stroke="#222" stroke-width="0.8"/>
<line x1="410.5" y1="306.6" x2="413.4" y2="306.6" stroke="#222" stroke-width="0.8"/>
<line x1="410.5" y1="324.3" x2="413.4" y2="324.3" stroke="#222" stroke-width="0.8"/>
<line x1="415.6" y1="327.4" x2="415.6" y2="330.4" stroke="#222" stroke-width="0.8"/>
<line x1="433.8" y1="327.4" x2="433.8" y2="330.4" stroke="#222" stroke-width="0.8"/>
<line x1="452" y1="327.4" x2="452" y2="330.4" stroke="#222" stroke-width="0.8"/>
<line x1="470.7" y1="327.4" x2="470.7" y2="330.4" stroke="#222" stroke-width="0.8"/>
<line x1="488.9" y1="327.4" x2="488.9" y2="330.4" stroke="#222" stroke-width="0.8"/>
<line x1="507" y1="327.4" x2="507" y2="330.4" stroke="#222" stroke-width="0.8"/>
<text x="462.3" y="341.3" font-size="9.4" text-anchor="middle" fill="#222" textLength="24.6" lengthAdjust="spacingAndGlyphs" stroke="#222" stroke-width="0.3">UMAP_1</text>
<text x="399.3" y="285.3" font-size="9.4" text-anchor="middle" fill="#222" transform="rotate(-90 399.3 285.3)" textLength="26" lengthAdjust="spacingAndGlyphs" stroke="#222" stroke-width="0.3">UMAP_2</text>
<defs><clipPath id="blob"><polygon points="417.8,275.2 420.7,269.4 427.4,265.0 435.1,263.7 450.5,264.6 469.7,265.6 488.9,266.5 492.8,268.8 491.6,272.3 488.9,276.2 487.0,283.8 488.5,291.5 493.7,299.2 500.5,306.5 502.0,312.3 492.8,314.6 479.3,313.1 465.8,309.2 456.2,303.5 448.5,297.7 435.1,291.9 425.5,287.1 418.7,280.4"/></clipPath><filter id="bl" x="-20%" y="-20%" width="140%" height="140%"><feGaussianBlur stdDeviation="1.0"/></filter></defs>
<g clip-path="url(#blob)"><g filter="url(#bl)">
<polygon fill="#e96a5c" points="412.0,258.8 477.4,258.8 477.4,293.5 412.0,293.5"/>
<polygon fill="#f29a3e" points="460.1,260.8 496.6,260.8 496.6,270.0 475.5,271.2 461.0,270.0"/>
<polygon fill="#c02a80" points="412.0,276.5 431.2,280.0 450.5,279.2 462.0,276.2 469.7,272.7 462.0,305.0 450.5,318.5 412.0,318.5"/>
<polygon fill="#7b2b9c" points="453.3,283.8 459.1,275.2 469.7,272.3 492.8,271.2 496.6,287.7 487.0,294.4 469.7,297.7 454.3,294.4"/>
<polygon fill="#2b2070" points="451.4,297.7 469.7,295.8 487.0,295.4 508.2,305.0 508.2,324.2 451.4,324.2"/>
</g></g>
<rect x="488.9" y="272.5" width="0.8" height="0.8" fill="#f29a3e"/>
<rect x="452.6" y="298.2" width="1" height="1" fill="#c02a80"/>
<rect x="467" y="298.2" width="0.8" height="0.8" fill="#7b2b9c"/>
<rect x="461.8" y="294.2" width="1.1" height="1.1" fill="#c02a80"/>
<rect x="474" y="295.3" width="1" height="1" fill="#2b2070"/>
<rect x="453.5" y="290.7" width="0.9" height="0.9" fill="#7b2b9c"/>
<rect x="468.3" y="272.3" width="0.9" height="0.9" fill="#7b2b9c"/>
<rect x="454.5" y="293.4" width="1" height="1" fill="#c02a80"/>
<rect x="469" y="269.9" width="1" height="1" fill="#e96a5c"/>
<rect x="460" y="296.7" width="1" height="1" fill="#7b2b9c"/>
<rect x="462.7" y="273.3" width="0.9" height="0.9" fill="#7b2b9c"/>
<rect x="468.6" y="273.5" width="1.1" height="1.1" fill="#e96a5c"/>
<rect x="478.1" y="271" width="1.2" height="1.2" fill="#f29a3e"/>
<rect x="481.8" y="297" width="0.9" height="0.9" fill="#7b2b9c"/>
<rect x="453.4" y="293" width="1" height="1" fill="#7b2b9c"/>
<rect x="454.5" y="292.8" width="0.7" height="0.7" fill="#c02a80"/>
<rect x="453.5" y="280.4" width="1.1" height="1.1" fill="#e96a5c"/>
<rect x="455.6" y="278.1" width="0.8" height="0.8" fill="#e96a5c"/>
<rect x="459.8" y="276.5" width="0.9" height="0.9" fill="#e96a5c"/>
<rect x="453.4" y="287.8" width="0.9" height="0.9" fill="#7b2b9c"/>
<rect x="460.7" y="269.9" width="0.8" height="0.8" fill="#f29a3e"/>
<rect x="441.9" y="281.4" width="1.1" height="1.1" fill="#e96a5c"/>
<rect x="469.1" y="272.8" width="1.1" height="1.1" fill="#e96a5c"/>
<rect x="452.6" y="280" width="0.7" height="0.7" fill="#e96a5c"/>
<rect x="457.7" y="278.2" width="1.1" height="1.1" fill="#e96a5c"/>
<rect x="453.3" y="289.3" width="1" height="1" fill="#7b2b9c"/>
<rect x="477.6" y="295.3" width="0.8" height="0.8" fill="#2b2070"/>
<rect x="460.4" y="297.4" width="0.7" height="0.7" fill="#c02a80"/>
<rect x="466.2" y="272.1" width="1" height="1" fill="#f29a3e"/>
<rect x="460" y="296.9" width="1" height="1" fill="#c02a80"/>
<rect x="455" y="297.8" width="0.8" height="0.8" fill="#c02a80"/>
<rect x="474.3" y="269.9" width="0.9" height="0.9" fill="#e96a5c"/>
<rect x="475.7" y="294.5" width="1.2" height="1.2" fill="#2b2070"/>
<rect x="481.1" y="272.1" width="1.1" height="1.1" fill="#f29a3e"/>
<rect x="485" y="271.4" width="1.2" height="1.2" fill="#f29a3e"/>
<rect x="476.1" y="270.5" width="0.9" height="0.9" fill="#7b2b9c"/>
<rect x="479" y="269.8" width="1" height="1" fill="#e96a5c"/>
<rect x="459.4" y="293.5" width="0.9" height="0.9" fill="#c02a80"/>
<rect x="472.5" y="272.1" width="1.1" height="1.1" fill="#7b2b9c"/>
<rect x="454" y="280.1" width="0.9" height="0.9" fill="#e96a5c"/>
<rect x="466.1" y="270.2" width="1.2" height="1.2" fill="#e96a5c"/>
<rect x="470" y="272.8" width="1.1" height="1.1" fill="#e96a5c"/>
<rect x="489.3" y="270.5" width="0.7" height="0.7" fill="#7b2b9c"/>
<rect x="448.6" y="278.2" width="0.9" height="0.9" fill="#c02a80"/>
<rect x="453.5" y="276.6" width="0.9" height="0.9" fill="#c02a80"/>
<rect x="461.6" y="268.9" width="1.1" height="1.1" fill="#e96a5c"/>
<rect x="466.8" y="296.7" width="0.7" height="0.7" fill="#7b2b9c"/>
<rect x="455.4" y="287" width="0.8" height="0.8" fill="#c02a80"/>
<rect x="457.3" y="279.1" width="1" height="1" fill="#c02a80"/>
<rect x="453.9" y="291.5" width="0.8" height="0.8" fill="#7b2b9c"/>
<rect x="476.2" y="295" width="0.8" height="0.8" fill="#2b2070"/>
<rect x="456.6" y="276.7" width="0.9" height="0.9" fill="#7b2b9c"/>
<rect x="455.1" y="283.1" width="0.9" height="0.9" fill="#c02a80"/>
<rect x="456" y="278.6" width="1" height="1" fill="#e96a5c"/>
<rect x="469.9" y="271.2" width="1.1" height="1.1" fill="#f29a3e"/>
<rect x="482.3" y="273" width="0.8" height="0.8" fill="#f29a3e"/>
<rect x="446.7" y="279.8" width="0.8" height="0.8" fill="#e96a5c"/>
<rect x="480.6" y="271.7" width="1.1" height="1.1" fill="#7b2b9c"/>
<rect x="459.6" y="294.5" width="1" height="1" fill="#c02a80"/>
<rect x="452.9" y="288.8" width="1.2" height="1.2" fill="#7b2b9c"/>
<rect x="468.4" y="272.5" width="0.9" height="0.9" fill="#7b2b9c"/>
<rect x="481.1" y="295.7" width="0.9" height="0.9" fill="#7b2b9c"/>
<rect x="461.6" y="270.2" width="0.8" height="0.8" fill="#f29a3e"/>
<rect x="465.9" y="272.6" width="1.1" height="1.1" fill="#7b2b9c"/>
<rect x="487.2" y="270.4" width="0.8" height="0.8" fill="#7b2b9c"/>
<rect x="483.7" y="270.8" width="0.8" height="0.8" fill="#f29a3e"/>
<rect x="458.5" y="277" width="0.9" height="0.9" fill="#e96a5c"/>
<rect x="443.5" y="280.2" width="0.7" height="0.7" fill="#e96a5c"/>
<rect x="455" y="297.6" width="0.9" height="0.9" fill="#c02a80"/>
<rect x="453.5" y="287.8" width="0.9" height="0.9" fill="#7b2b9c"/>
<rect x="451.8" y="277" width="1.2" height="1.2" fill="#c02a80"/>
<rect x="459.9" y="296.1" width="1.1" height="1.1" fill="#2b2070"/>
<rect x="485.7" y="294.8" width="1.1" height="1.1" fill="#7b2b9c"/>
<rect x="454.7" y="291.2" width="0.8" height="0.8" fill="#c02a80"/>
<rect x="476.1" y="271.9" width="0.9" height="0.9" fill="#7b2b9c"/>
<rect x="455.2" y="279.8" width="1.1" height="1.1" fill="#7b2b9c"/>
<rect x="459.9" y="275.3" width="1.1" height="1.1" fill="#c02a80"/>
<rect x="465.6" y="271.8" width="0.8" height="0.8" fill="#f29a3e"/>
<rect x="455.4" y="294.5" width="0.8" height="0.8" fill="#c02a80"/>
<rect x="469.3" y="297.3" width="1" height="1" fill="#7b2b9c"/>
<rect x="454" y="280.3" width="1.1" height="1.1" fill="#7b2b9c"/>
<rect x="459.9" y="267.1" width="0.7" height="0.7" fill="#f29a3e"/>
<rect x="455.9" y="297.3" width="0.7" height="0.7" fill="#c02a80"/>
<rect x="455" y="280.9" width="0.8" height="0.8" fill="#7b2b9c"/>
<rect x="468.6" y="297.5" width="0.9" height="0.9" fill="#7b2b9c"/>
<rect x="450.3" y="279.8" width="1" height="1" fill="#e96a5c"/>
<rect x="455.9" y="284.7" width="0.7" height="0.7" fill="#c02a80"/>
<rect x="472" y="271.9" width="1.1" height="1.1" fill="#f29a3e"/>
<rect x="473.1" y="295.9" width="1.1" height="1.1" fill="#7b2b9c"/>
<rect x="464" y="295.9" width="1.2" height="1.2" fill="#2b2070"/>
<rect x="473.4" y="272.5" width="1" height="1" fill="#f29a3e"/>
<rect x="477.9" y="295.9" width="1" height="1" fill="#7b2b9c"/>
<rect x="461.4" y="297.9" width="1" height="1" fill="#c02a80"/>
<rect x="491.4" y="270.8" width="1" height="1" fill="#7b2b9c"/>
<rect x="451.9" y="277.3" width="0.8" height="0.8" fill="#c02a80"/>
<rect x="456" y="294.9" width="0.9" height="0.9" fill="#7b2b9c"/>
<rect x="471.9" y="294.9" width="0.8" height="0.8" fill="#2b2070"/>
<rect x="463.6" y="270.5" width="1" height="1" fill="#f29a3e"/>
<rect x="459.3" y="266.9" width="0.8" height="0.8" fill="#f29a3e"/>
<rect x="459.9" y="276.3" width="1.1" height="1.1" fill="#e96a5c"/>
<rect x="465.7" y="269.4" width="0.8" height="0.8" fill="#e96a5c"/>
<rect x="480.3" y="271" width="0.9" height="0.9" fill="#7b2b9c"/>
<rect x="452.1" y="296.9" width="1.2" height="1.2" fill="#2b2070"/>
<rect x="467" y="295.7" width="0.9" height="0.9" fill="#2b2070"/>
<rect x="480.3" y="296.9" width="0.8" height="0.8" fill="#7b2b9c"/>
<rect x="456.2" y="290.5" width="0.7" height="0.7" fill="#c02a80"/>
<rect x="471.7" y="293.6" width="0.9" height="0.9" fill="#2b2070"/>
<rect x="456.8" y="278.3" width="0.8" height="0.8" fill="#7b2b9c"/>
<rect x="480.1" y="271.5" width="0.8" height="0.8" fill="#7b2b9c"/>
<rect x="458.6" y="294.8" width="1.2" height="1.2" fill="#c02a80"/>
<rect x="476.2" y="271.9" width="1.1" height="1.1" fill="#f29a3e"/>
<rect x="461.8" y="271.9" width="1.1" height="1.1" fill="#7b2b9c"/>
<rect x="473" y="273.7" width="1.1" height="1.1" fill="#e96a5c"/>
<rect x="469.2" y="272.6" width="1" height="1" fill="#f29a3e"/>
<rect x="484.2" y="296" width="1.1" height="1.1" fill="#7b2b9c"/>
<rect x="449.3" y="278.5" width="0.8" height="0.8" fill="#c02a80"/>
<rect x="455.1" y="277.2" width="1" height="1" fill="#c02a80"/>
<rect x="450.2" y="298.6" width="0.7" height="0.7" fill="#2b2070"/>
<rect x="480.6" y="295.6" width="1.1" height="1.1" fill="#7b2b9c"/>
<rect x="464.3" y="272.6" width="1.1" height="1.1" fill="#f29a3e"/>
<rect x="475.4" y="295.2" width="0.7" height="0.7" fill="#2b2070"/>
<rect x="454.9" y="277.1" width="0.8" height="0.8" fill="#c02a80"/>
<rect x="488.4" y="270.6" width="1.1" height="1.1" fill="#7b2b9c"/>
<rect x="461.6" y="270.5" width="0.8" height="0.8" fill="#f29a3e"/>
<rect x="450.9" y="280.2" width="0.9" height="0.9" fill="#e96a5c"/>
<rect x="491.4" y="296.4" width="0.9" height="0.9" fill="#2b2070"/>
<rect x="461.4" y="273.6" width="1" height="1" fill="#7b2b9c"/>
<rect x="488.9" y="270.2" width="0.9" height="0.9" fill="#7b2b9c"/>
<rect x="451.5" y="279.4" width="0.9" height="0.9" fill="#e96a5c"/>
<rect x="441.1" y="281.4" width="0.7" height="0.7" fill="#e96a5c"/>
<rect x="462" y="270.3" width="0.9" height="0.9" fill="#f29a3e"/>
<rect x="471" y="269.9" width="0.8" height="0.8" fill="#e96a5c"/>
<rect x="467.5" y="297" width="0.9" height="0.9" fill="#7b2b9c"/>
<rect x="463.5" y="270.4" width="0.8" height="0.8" fill="#f29a3e"/>
<rect x="471.1" y="270.3" width="0.9" height="0.9" fill="#e96a5c"/>
<rect x="464.9" y="270.5" width="1.1" height="1.1" fill="#f29a3e"/>
<rect x="451.8" y="278.8" width="1" height="1" fill="#c02a80"/>
<rect x="447.3" y="279" width="1.1" height="1.1" fill="#c02a80"/>
<rect x="459.2" y="269.3" width="1.1" height="1.1" fill="#f29a3e"/>
<rect x="453.6" y="279.3" width="1" height="1" fill="#e96a5c"/>
<rect x="469.3" y="273.8" width="0.8" height="0.8" fill="#e96a5c"/>
<rect x="475.7" y="270.9" width="0.8" height="0.8" fill="#e96a5c"/>
<rect x="491.3" y="296.5" width="0.9" height="0.9" fill="#2b2070"/>
<rect x="459.1" y="296.7" width="0.9" height="0.9" fill="#2b2070"/>
<rect x="447.8" y="279.3" width="1.2" height="1.2" fill="#e96a5c"/>
<rect x="454.7" y="279.2" width="1" height="1" fill="#e96a5c"/>
<rect x="449.5" y="279.6" width="1.1" height="1.1" fill="#e96a5c"/>
<rect x="490.4" y="271.4" width="1.1" height="1.1" fill="#f29a3e"/>
<rect x="453.3" y="284.5" width="0.9" height="0.9" fill="#7b2b9c"/>
<rect x="488.5" y="294.1" width="0.8" height="0.8" fill="#7b2b9c"/>
<rect x="456.1" y="278.6" width="1" height="1" fill="#7b2b9c"/>
<rect x="481.4" y="295.9" width="0.7" height="0.7" fill="#7b2b9c"/>
<rect x="462.4" y="294.8" width="0.8" height="0.8" fill="#2b2070"/>
<rect x="481.4" y="294.7" width="1.1" height="1.1" fill="#2b2070"/>
<rect x="453.4" y="293.4" width="0.9" height="0.9" fill="#7b2b9c"/>
<rect x="454.8" y="284.9" width="0.8" height="0.8" fill="#c02a80"/>
<rect x="483.5" y="296.3" width="1.1" height="1.1" fill="#7b2b9c"/>
<rect x="443.4" y="280.1" width="1.2" height="1.2" fill="#e96a5c"/>
<rect x="453" y="288.5" width="0.9" height="0.9" fill="#7b2b9c"/>
<rect x="470.7" y="297" width="0.8" height="0.8" fill="#7b2b9c"/>
<rect x="480.4" y="294.8" width="0.7" height="0.7" fill="#2b2070"/>
<rect x="477.8" y="295.1" width="1" height="1" fill="#2b2070"/>
<rect x="478.2" y="271.2" width="0.7" height="0.7" fill="#7b2b9c"/>
<rect x="460.9" y="275.4" width="1" height="1" fill="#e96a5c"/>
<rect x="465.3" y="274.2" width="0.8" height="0.8" fill="#e96a5c"/>
<rect x="462.9" y="270.6" width="0.8" height="0.8" fill="#f29a3e"/>
<rect x="477.8" y="294.9" width="1.2" height="1.2" fill="#2b2070"/>
<rect x="483.5" y="296.5" width="0.8" height="0.8" fill="#7b2b9c"/>
<rect x="446.4" y="278.5" width="0.9" height="0.9" fill="#c02a80"/>
<rect x="476.6" y="270" width="0.8" height="0.8" fill="#7b2b9c"/>
<rect x="456.8" y="295.9" width="1" height="1" fill="#2b2070"/>
<rect x="442.7" y="280" width="0.7" height="0.7" fill="#e96a5c"/>
<rect x="489.2" y="290.6" width="0.9" height="0.9" fill="#9a50b0"/>
<rect x="502.7" y="308.7" width="1.1" height="1.1" fill="#4a3a90"/>
<rect x="491.1" y="265.6" width="0.8" height="0.8" fill="#b060a8"/>
<rect x="504.8" y="307.9" width="1" height="1" fill="#5a4aa0"/>
<rect x="507.7" y="308.9" width="0.7" height="0.7" fill="#3a2a80"/>
<rect x="490.3" y="265.6" width="1" height="1" fill="#d28fbf"/>
<rect x="489.3" y="285.6" width="0.8" height="0.8" fill="#8a3aa8"/>
<rect x="505.8" y="295.1" width="0.7" height="0.7" fill="#7a2a9a"/>
<rect x="467.3" y="311.3" width="0.7" height="0.7" fill="#5a4aa0"/>
<rect x="504.3" y="303" width="0.7" height="0.7" fill="#5a4aa0"/>
<rect x="491.9" y="285.7" width="0.7" height="0.7" fill="#5a2a8a"/>
<rect x="494.4" y="295.1" width="0.6" height="0.6" fill="#7a2a9a"/>
<rect x="494.4" y="310.9" width="0.7" height="0.7" fill="#f0e0f0"/>
<rect x="495.7" y="293.3" width="0.9" height="0.9" fill="#9a50b0"/>
<rect x="496.9" y="293.1" width="0.7" height="0.7" fill="#9a50b0"/>
<rect x="490.3" y="292.3" width="0.9" height="0.9" fill="#9a50b0"/>
<rect x="492.2" y="289.5" width="0.9" height="0.9" fill="#7a2a9a"/>
<rect x="507.9" y="306.6" width="0.9" height="0.9" fill="#2c2070"/>
<rect x="502.8" y="292.3" width="0.8" height="0.8" fill="#9a50b0"/>
<rect x="500.4" y="295.5" width="0.9" height="0.9" fill="#5a4aa0"/>
<rect x="480" y="255.7" width="0.7" height="0.7" fill="#e2a0b5"/>
<rect x="488.8" y="286.7" width="0.8" height="0.8" fill="#8a3aa8"/>
<rect x="502.6" y="312.1" width="1.1" height="1.1" fill="#2c2070"/>
<rect x="494.3" y="272.9" width="0.9" height="0.9" fill="#7a2a9a"/>
<rect x="484.9" y="316" width="0.9" height="0.9" fill="#5a4aa0"/>
<rect x="489.7" y="276.5" width="0.9" height="0.9" fill="#8a3aa8"/>
<rect x="501.9" y="308.2" width="0.7" height="0.7" fill="#4a3a90"/>
<rect x="499.5" y="277.4" width="0.8" height="0.8" fill="#8a3aa8"/>
<rect x="475.8" y="313.3" width="0.7" height="0.7" fill="#3a2a80"/>
<rect x="495.4" y="300.4" width="1" height="1" fill="#3a2a80"/>
<rect x="493.6" y="305.9" width="0.7" height="0.7" fill="#f0e0f0"/>
<rect x="489.6" y="278.4" width="0.9" height="0.9" fill="#8a3aa8"/>
<rect x="503.2" y="306.4" width="0.8" height="0.8" fill="#2c2070"/>
<rect x="499.4" y="287.2" width="0.9" height="0.9" fill="#7a2a9a"/>
<rect x="487.9" y="264.2" width="1" height="1" fill="#d28fbf"/>
<rect x="477.9" y="260.2" width="0.7" height="0.7" fill="#d28fbf"/>
<rect x="465.8" y="303.2" width="0.7" height="0.7" fill="#f0e0f0"/>
<rect x="493.5" y="298" width="1.1" height="1.1" fill="#3a2a80"/>
<rect x="456.5" y="304.5" width="0.9" height="0.9" fill="#5a4aa0"/>
<rect x="502.7" y="303.7" width="1" height="1" fill="#3a2a80"/>
<rect x="496.4" y="294.6" width="0.7" height="0.7" fill="#5a2a8a"/>
<rect x="509.5" y="309.6" width="0.9" height="0.9" fill="#2c2070"/>
<rect x="495.2" y="299" width="1" height="1" fill="#2c2070"/>
<rect x="501.9" y="305.7" width="0.7" height="0.7" fill="#5a4aa0"/>
<rect x="503.1" y="304.3" width="0.9" height="0.9" fill="#2c2070"/>
<rect x="502.2" y="312.2" width="1.1" height="1.1" fill="#3a2a80"/>
<rect x="491.6" y="309.2" width="0.7" height="0.7" fill="#f0e0f0"/>
<rect x="478.6" y="313.6" width="0.8" height="0.8" fill="#2c2070"/>
<rect x="477.1" y="313.1" width="0.8" height="0.8" fill="#2c2070"/>
<rect x="493.1" y="264.4" width="1.1" height="1.1" fill="#d28fbf"/>
<rect x="476.3" y="313.9" width="1" height="1" fill="#4a3a90"/>
<rect x="508.7" y="312.3" width="0.9" height="0.9" fill="#3a2a80"/>
<rect x="498.3" y="300.7" width="0.8" height="0.8" fill="#4a3a90"/>
<rect x="504.8" y="306.1" width="0.7" height="0.7" fill="#5a4aa0"/>
<rect x="502.2" y="285.5" width="0.9" height="0.9" fill="#5a2a8a"/>
<rect x="503" y="311.2" width="0.8" height="0.8" fill="#5a4aa0"/>
<rect x="502.7" y="308.9" width="0.9" height="0.9" fill="#5a4aa0"/>
<rect x="478.4" y="264" width="1" height="1" fill="#e2a0b5"/>
<rect x="486" y="292.8" width="0.7" height="0.7" fill="#f0e0f0"/>
<rect x="495.1" y="300" width="0.9" height="0.9" fill="#4a3a90"/>
<rect x="475.5" y="254.9" width="0.7" height="0.7" fill="#b060a8"/>
<rect x="489.7" y="266.1" width="1.1" height="1.1" fill="#d28fbf"/>
<rect x="488.3" y="320.1" width="0.7" height="0.7" fill="#2c2070"/>
<rect x="497.3" y="280.5" width="1" height="1" fill="#9a50b0"/>
<rect x="506.9" y="295.9" width="1.1" height="1.1" fill="#4a3a90"/>
<rect x="492.3" y="272.1" width="0.8" height="0.8" fill="#7a2a9a"/>
<rect x="497" y="262" width="0.7" height="0.7" fill="#9a4a9c"/>
<rect x="497.9" y="298.8" width="1.1" height="1.1" fill="#2c2070"/>
<rect x="493" y="293.1" width="0.7" height="0.7" fill="#9a50b0"/>
<rect x="482.2" y="265.6" width="1" height="1" fill="#b060a8"/>
<rect x="503.3" y="311.7" width="0.9" height="0.9" fill="#5a4aa0"/>
<rect x="498.9" y="286.1" width="0.8" height="0.8" fill="#5a2a8a"/>
<rect x="492.6" y="274.3" width="0.8" height="0.8" fill="#8a3aa8"/>
<rect x="490.8" y="286.5" width="1.1" height="1.1" fill="#8a3aa8"/>
<rect x="476" y="314.9" width="1.1" height="1.1" fill="#4a3a90"/>
<rect x="507.9" y="306.1" width="0.8" height="0.8" fill="#5a4aa0"/>
<rect x="494.1" y="269.9" width="0.6" height="0.6" fill="#9a4a9c"/>
<rect x="493.6" y="290.9" width="0.7" height="0.7" fill="#5a2a8a"/>
<rect x="494.6" y="280.9" width="1" height="1" fill="#5a2a8a"/>
<rect x="456.7" y="297.7" width="0.7" height="0.7" fill="#f0e0f0"/>
<rect x="496.8" y="297.6" width="0.7" height="0.7" fill="#4a3a90"/>
<rect x="496.9" y="302.4" width="1" height="1" fill="#4a3a90"/>
<rect x="500.4" y="271.4" width="1.1" height="1.1" fill="#5a2a8a"/>
<rect x="500.5" y="314" width="1.1" height="1.1" fill="#2c2070"/>
<rect x="490.6" y="264.9" width="0.8" height="0.8" fill="#b060a8"/>
<rect x="494.9" y="308" width="0.7" height="0.7" fill="#f0e0f0"/>
<rect x="504.5" y="311.4" width="0.8" height="0.8" fill="#3a2a80"/>
<rect x="499.3" y="319.5" width="0.9" height="0.9" fill="#3a2a80"/>
<rect x="491.3" y="286.8" width="0.7" height="0.7" fill="#7a2a9a"/>
<rect x="497.8" y="318.9" width="0.9" height="0.9" fill="#4a3a90"/>
<rect x="458" y="301.1" width="0.7" height="0.7" fill="#f0e0f0"/>
<rect x="498" y="301.7" width="0.8" height="0.8" fill="#4a3a90"/>
<rect x="490.9" y="317.8" width="1" height="1" fill="#2c2070"/>
<rect x="508" y="317.3" width="0.6" height="0.6" fill="#2c2070"/>
<rect x="483.3" y="260.9" width="0.8" height="0.8" fill="#b060a8"/>
<rect x="468.5" y="310.3" width="0.7" height="0.7" fill="#3a2a80"/>
<rect x="497.1" y="300.6" width="1" height="1" fill="#2c2070"/>
<rect x="501.2" y="312.8" width="0.8" height="0.8" fill="#2c2070"/>
<rect x="492.8" y="272.4" width="1" height="1" fill="#5a2a8a"/>
<rect x="494.7" y="270.3" width="0.6" height="0.6" fill="#e2a0b5"/>
<rect x="486.4" y="294.7" width="0.7" height="0.7" fill="#f0e0f0"/>
<rect x="493.4" y="292.8" width="1" height="1" fill="#9a50b0"/>
<rect x="492.8" y="265.8" width="1" height="1" fill="#9a4a9c"/>
<rect x="483.7" y="310.6" width="0.7" height="0.7" fill="#f0e0f0"/>
<rect x="486.3" y="277" width="0.7" height="0.7" fill="#f0e0f0"/>
<rect x="500.3" y="295.3" width="1" height="1" fill="#7a2a9a"/>
<rect x="497.9" y="301.2" width="0.9" height="0.9" fill="#5a4aa0"/>
<rect x="490.8" y="266.3" width="0.6" height="0.6" fill="#d28fbf"/>
<rect x="487.5" y="264.6" width="1" height="1" fill="#e2a0b5"/>
<rect x="493.9" y="268.5" width="0.7" height="0.7" fill="#e2a0b5"/>
<rect x="503.4" y="307.8" width="0.7" height="0.7" fill="#5a4aa0"/>
<rect x="508.6" y="274.5" width="0.9" height="0.9" fill="#8a3aa8"/>
<rect x="489.2" y="316.6" width="0.9" height="0.9" fill="#5a4aa0"/>
<rect x="497" y="312.5" width="0.7" height="0.7" fill="#f0e0f0"/>
<rect x="484.8" y="263.8" width="0.7" height="0.7" fill="#e2a0b5"/>
<rect x="483.1" y="283.8" width="0.7" height="0.7" fill="#f0e0f0"/>
<rect x="499.2" y="288" width="0.9" height="0.9" fill="#9a50b0"/>
<rect x="471.4" y="314.4" width="0.7" height="0.7" fill="#2c2070"/>
<rect x="487.1" y="314.1" width="1" height="1" fill="#4a3a90"/>
<rect x="458.6" y="303.3" width="0.7" height="0.7" fill="#f0e0f0"/>
<rect x="458.4" y="304.7" width="0.7" height="0.7" fill="#f0e0f0"/>
<rect x="503.4" y="298" width="0.7" height="0.7" fill="#4a3a90"/>
<rect x="483.3" y="313.1" width="0.7" height="0.7" fill="#f0e0f0"/>
<rect x="489.4" y="291" width="0.7" height="0.7" fill="#9a50b0"/>
<rect x="507.9" y="292.7" width="1.1" height="1.1" fill="#7a2a9a"/>
<rect x="498.2" y="269.5" width="1.1" height="1.1" fill="#9a4a9c"/>
<rect x="490.2" y="275" width="0.8" height="0.8" fill="#7a2a9a"/>
<rect x="458.4" y="305.1" width="0.7" height="0.7" fill="#3a2a80"/>
<rect x="492.2" y="285.4" width="0.8" height="0.8" fill="#5a2a8a"/>
<rect x="496.8" y="292.9" width="0.6" height="0.6" fill="#8a3aa8"/>
<rect x="481.5" y="313.7" width="0.8" height="0.8" fill="#2c2070"/>
<rect x="504.8" y="301.6" width="1.1" height="1.1" fill="#3a2a80"/>
<rect x="502" y="298.7" width="0.7" height="0.7" fill="#2c2070"/>
<rect x="488.8" y="295.5" width="0.7" height="0.7" fill="#f0e0f0"/>
<rect x="475.5" y="313.9" width="0.9" height="0.9" fill="#2c2070"/>
<rect x="496.3" y="269.8" width="0.7" height="0.7" fill="#c57ab5"/>
<rect x="488.7" y="258.8" width="0.6" height="0.6" fill="#e2a0b5"/>
<rect x="479.8" y="264.4" width="0.9" height="0.9" fill="#c57ab5"/>
<rect x="463.4" y="263.7" width="0.9" height="0.9" fill="#b060a8"/>
<rect x="492.7" y="293.4" width="0.7" height="0.7" fill="#9a50b0"/>
<rect x="490.3" y="279.6" width="0.6" height="0.6" fill="#9a50b0"/>
<rect x="502" y="281.6" width="0.7" height="0.7" fill="#7a2a9a"/>
<rect x="499.2" y="289" width="0.7" height="0.7" fill="#5a2a8a"/>
<rect x="501.1" y="300.6" width="0.9" height="0.9" fill="#5a4aa0"/>
<rect x="509.1" y="308.8" width="0.7" height="0.7" fill="#3a2a80"/>
<rect x="492.3" y="268.4" width="0.9" height="0.9" fill="#e2a0b5"/>
<rect x="495.5" y="292.4" width="0.9" height="0.9" fill="#9a50b0"/>
<rect x="487.6" y="283" width="0.7" height="0.7" fill="#7a2a9a"/>
<rect x="488.4" y="279.9" width="0.9" height="0.9" fill="#8a3aa8"/>
<rect x="481.4" y="264.1" width="0.7" height="0.7" fill="#e2a0b5"/>
<rect x="505.5" y="318.6" width="0.8" height="0.8" fill="#4a3a90"/>
<rect x="486.9" y="292.4" width="0.7" height="0.7" fill="#f0e0f0"/>
<rect x="493.7" y="305.7" width="0.7" height="0.7" fill="#f0e0f0"/>
<rect x="497.2" y="272" width="1.1" height="1.1" fill="#7a2a9a"/>
<rect x="490.9" y="288.8" width="0.8" height="0.8" fill="#9a50b0"/>
<rect x="506.9" y="306" width="1.1" height="1.1" fill="#5a4aa0"/>
<rect x="489" y="293.6" width="0.7" height="0.7" fill="#f0e0f0"/>
<rect x="508.7" y="312.1" width="1" height="1" fill="#2c2070"/>
<rect x="503.8" y="296.7" width="1" height="1" fill="#5a4aa0"/>
<rect x="496.1" y="313.1" width="0.7" height="0.7" fill="#f0e0f0"/>
<rect x="486.5" y="296.1" width="0.7" height="0.7" fill="#f0e0f0"/>
<rect x="491.8" y="311.1" width="0.7" height="0.7" fill="#f0e0f0"/>
<rect x="497" y="308.7" width="0.7" height="0.7" fill="#f0e0f0"/>
<rect x="476.9" y="313.2" width="1" height="1" fill="#3a2a80"/>
<rect x="477.3" y="312.7" width="0.8" height="0.8" fill="#4a3a90"/>
<rect x="491.2" y="274.7" width="0.6" height="0.6" fill="#8a3aa8"/>
<rect x="493.1" y="293.9" width="0.9" height="0.9" fill="#5a2a8a"/>
<rect x="500.7" y="311.2" width="0.7" height="0.7" fill="#f0e0f0"/>
<rect x="509.3" y="318.6" width="0.8" height="0.8" fill="#2c2070"/>
<rect x="481.9" y="263.6" width="0.9" height="0.9" fill="#9a4a9c"/>
<rect x="469.5" y="264.6" width="0.8" height="0.8" fill="#c57ab5"/>
<rect x="478.1" y="264.8" width="0.7" height="0.7" fill="#b060a8"/>
<rect x="493.8" y="267" width="0.7" height="0.7" fill="#e2a0b5"/>
<rect x="470.4" y="311.9" width="1" height="1" fill="#4a3a90"/>
<rect x="504.5" y="309.5" width="1" height="1" fill="#5a4aa0"/>
<rect x="507.8" y="303.1" width="0.7" height="0.7" fill="#3a2a80"/>
<rect x="500.6" y="299.4" width="1" height="1" fill="#5a4aa0"/>
<rect x="497.1" y="311.3" width="0.7" height="0.7" fill="#f0e0f0"/>
<rect x="479.1" y="264.3" width="0.7" height="0.7" fill="#9a4a9c"/>
<rect x="505.4" y="310" width="1" height="1" fill="#2c2070"/>
<rect x="463.1" y="304.1" width="0.7" height="0.7" fill="#f0e0f0"/>
<rect x="480.3" y="312.6" width="0.7" height="0.7" fill="#f0e0f0"/>
<rect x="474" y="306.2" width="0.7" height="0.7" fill="#f0e0f0"/>
<rect x="457.2" y="302.5" width="0.7" height="0.7" fill="#f0e0f0"/>
<rect x="478.8" y="264.6" width="1" height="1" fill="#9a4a9c"/>
<rect x="493.2" y="287" width="0.8" height="0.8" fill="#8a3aa8"/>
<rect x="508" y="314" width="1" height="1" fill="#3a2a80"/>
<rect x="495.7" y="309.4" width="0.7" height="0.7" fill="#f0e0f0"/>
<rect x="495" y="269.9" width="1" height="1" fill="#9a4a9c"/>
<rect x="487.8" y="284.8" width="0.8" height="0.8" fill="#8a3aa8"/>
<rect x="494.5" y="263.7" width="0.8" height="0.8" fill="#b060a8"/>
<rect x="488.6" y="300.6" width="0.7" height="0.7" fill="#f0e0f0"/>
<rect x="493.1" y="316.9" width="1.1" height="1.1" fill="#5a4aa0"/>
<rect x="502.8" y="313.1" width="0.8" height="0.8" fill="#5a4aa0"/>
<rect x="484.9" y="264.3" width="0.9" height="0.9" fill="#9a4a9c"/>
<rect x="495.8" y="300.3" width="0.9" height="0.9" fill="#4a3a90"/>
<rect x="494.3" y="316.6" width="0.7" height="0.7" fill="#5a4aa0"/>
<rect x="470.5" y="309.1" width="0.7" height="0.7" fill="#f0e0f0"/>
<rect x="498.2" y="287.5" width="0.9" height="0.9" fill="#5a2a8a"/>
<rect x="485.5" y="279.7" width="0.7" height="0.7" fill="#f0e0f0"/>
<rect x="490.8" y="274.6" width="0.7" height="0.7" fill="#8a3aa8"/>
<rect x="484.3" y="259.6" width="0.8" height="0.8" fill="#c57ab5"/>
<rect x="488.5" y="282.9" width="0.7" height="0.7" fill="#9a50b0"/>
<rect x="472.8" y="307.2" width="0.7" height="0.7" fill="#f0e0f0"/>
<rect x="481.1" y="315.7" width="0.8" height="0.8" fill="#2c2070"/>
<rect x="485" y="263.6" width="1" height="1" fill="#9a4a9c"/>
<rect x="500.8" y="298.9" width="1" height="1" fill="#4a3a90"/>
<rect x="496.9" y="283.8" width="0.9" height="0.9" fill="#5a2a8a"/>
<rect x="498.7" y="279.7" width="1.1" height="1.1" fill="#5a2a8a"/>
<rect x="492.8" y="296.7" width="1" height="1" fill="#4a3a90"/>
<rect x="477.2" y="313.6" width="0.8" height="0.8" fill="#3a2a80"/>
<rect x="496.9" y="270.5" width="0.8" height="0.8" fill="#8a3aa8"/>
<rect x="487.5" y="283.4" width="0.7" height="0.7" fill="#8a3aa8"/>
<rect x="494.1" y="271.1" width="1" height="1" fill="#8a3aa8"/>
<rect x="489.5" y="319.8" width="0.8" height="0.8" fill="#4a3a90"/>
<rect x="496.8" y="300.9" width="1" height="1" fill="#4a3a90"/>
<rect x="497.1" y="285.4" width="1.1" height="1.1" fill="#9a50b0"/>
<rect x="488.6" y="283.1" width="1.1" height="1.1" fill="#9a50b0"/>
<rect x="464.8" y="264.9" width="0.6" height="0.6" fill="#b060a8"/>
<rect x="483.3" y="320.1" width="1.1" height="1.1" fill="#3a2a80"/>
<rect x="502.2" y="313.3" width="1" height="1" fill="#5a4aa0"/>
<rect x="489.6" y="282.1" width="0.8" height="0.8" fill="#7a2a9a"/>
<rect x="496.6" y="268.9" width="0.9" height="0.9" fill="#c57ab5"/>
<rect x="499.5" y="288" width="0.6" height="0.6" fill="#7a2a9a"/>
<rect x="492.8" y="287.8" width="1" height="1" fill="#8a3aa8"/>
<rect x="496.5" y="317.9" width="1.1" height="1.1" fill="#5a4aa0"/>
<rect x="492.2" y="316.5" width="1" height="1" fill="#3a2a80"/>
<rect x="496.7" y="270" width="0.8" height="0.8" fill="#c57ab5"/>
<rect x="495" y="316.8" width="1" height="1" fill="#4a3a90"/>
<rect x="509.5" y="311.5" width="1.1" height="1.1" fill="#2c2070"/>
<rect x="489.5" y="281.9" width="1" height="1" fill="#5a2a8a"/>
<rect x="504.4" y="296.8" width="0.6" height="0.6" fill="#4a3a90"/>
<rect x="505.2" y="270.1" width="0.9" height="0.9" fill="#e2a0b5"/>
<rect x="478.9" y="263.6" width="0.6" height="0.6" fill="#c57ab5"/>
<rect x="467.9" y="265.2" width="0.7" height="0.7" fill="#d28fbf"/>
<rect x="471.1" y="263.8" width="1" height="1" fill="#9a4a9c"/>
<rect x="499.5" y="304.7" width="0.7" height="0.7" fill="#3a2a80"/>
<rect x="495.1" y="271.9" width="1" height="1" fill="#5a2a8a"/>
<rect x="495.9" y="267.1" width="0.7" height="0.7" fill="#c57ab5"/>
<rect x="503.4" y="283.3" width="0.7" height="0.7" fill="#5a2a8a"/>
<rect x="497.4" y="313.5" width="0.9" height="0.9" fill="#4a3a90"/>
<rect x="507.4" y="274.6" width="0.9" height="0.9" fill="#9a50b0"/>
<rect x="503.2" y="288.3" width="0.8" height="0.8" fill="#8a3aa8"/>
<rect x="492.3" y="267.9" width="1.1" height="1.1" fill="#c57ab5"/>
<rect x="498.3" y="308.8" width="0.7" height="0.7" fill="#f0e0f0"/>
<rect x="488.1" y="319.8" width="0.7" height="0.7" fill="#4a3a90"/>
<rect x="491.1" y="294.1" width="0.9" height="0.9" fill="#9a50b0"/>
<rect x="489" y="277.4" width="0.9" height="0.9" fill="#5a2a8a"/>
<rect x="493.3" y="315" width="0.9" height="0.9" fill="#5a4aa0"/>
<rect x="504.2" y="317.9" width="0.8" height="0.8" fill="#4a3a90"/>
<rect x="479" y="263.4" width="1" height="1" fill="#b060a8"/>
<rect x="502.3" y="301" width="1.1" height="1.1" fill="#2c2070"/>
<rect x="495.7" y="292.4" width="0.9" height="0.9" fill="#8a3aa8"/>
<rect x="485.4" y="263.9" width="0.9" height="0.9" fill="#e2a0b5"/>
<rect x="500.2" y="301.3" width="0.8" height="0.8" fill="#3a2a80"/>
<rect x="504.2" y="312.3" width="1.1" height="1.1" fill="#3a2a80"/>
<rect x="495.4" y="260.8" width="0.7" height="0.7" fill="#9a4a9c"/>
<rect x="507.9" y="309.9" width="0.6" height="0.6" fill="#4a3a90"/>
<rect x="466.5" y="309.4" width="1.1" height="1.1" fill="#4a3a90"/>
<rect x="493.7" y="272.5" width="1" height="1" fill="#7a2a9a"/>
<rect x="493.1" y="299.1" width="0.7" height="0.7" fill="#f0e0f0"/>
<rect x="490.2" y="278.8" width="1.1" height="1.1" fill="#9a50b0"/>
<rect x="478.4" y="311.1" width="0.7" height="0.7" fill="#f0e0f0"/>
<rect x="498.1" y="272.6" width="0.7" height="0.7" fill="#7a2a9a"/>
<rect x="489.3" y="283.4" width="0.9" height="0.9" fill="#8a3aa8"/>
<rect x="479.9" y="264.4" width="0.8" height="0.8" fill="#b060a8"/>
<rect x="491.9" y="272.8" width="0.8" height="0.8" fill="#8a3aa8"/>
<rect x="478.8" y="318" width="0.8" height="0.8" fill="#5a4aa0"/>
<rect x="499.4" y="305" width="0.9" height="0.9" fill="#4a3a90"/>
<rect x="488.1" y="256.4" width="0.8" height="0.8" fill="#b060a8"/>
<rect x="490.8" y="293.8" width="0.9" height="0.9" fill="#9a50b0"/>
<rect x="495" y="272" width="0.8" height="0.8" fill="#8a3aa8"/>
<rect x="508" y="308.1" width="0.7" height="0.7" fill="#5a4aa0"/>
<rect x="489.7" y="314.8" width="1" height="1" fill="#3a2a80"/>
<rect x="506.3" y="312.2" width="1" height="1" fill="#2c2070"/>
<rect x="491.2" y="291.8" width="1.1" height="1.1" fill="#7a2a9a"/>
<rect x="508.9" y="298.7" width="0.7" height="0.7" fill="#5a4aa0"/>
<rect x="466.7" y="262.8" width="0.7" height="0.7" fill="#b060a8"/>
<rect x="493.6" y="270.7" width="0.9" height="0.9" fill="#7a2a9a"/>
<rect x="490.1" y="280.1" width="1" height="1" fill="#7a2a9a"/>
<rect x="507.7" y="316.1" width="1" height="1" fill="#5a4aa0"/>
<rect x="508.1" y="309.2" width="0.8" height="0.8" fill="#3a2a80"/>
<rect x="504.1" y="317.4" width="1" height="1" fill="#3a2a80"/>
<rect x="488.9" y="283.4" width="1" height="1" fill="#8a3aa8"/>
<rect x="493.5" y="291.2" width="0.8" height="0.8" fill="#8a3aa8"/>
<rect x="494.4" y="317.9" width="0.9" height="0.9" fill="#3a2a80"/>
<rect x="470.2" y="310.9" width="0.8" height="0.8" fill="#2c2070"/>
<rect x="492.8" y="287.5" width="0.8" height="0.8" fill="#9a50b0"/>
<rect x="493.2" y="294.3" width="0.8" height="0.8" fill="#8a3aa8"/>
<rect x="498.2" y="294.4" width="1" height="1" fill="#7a2a9a"/>
<rect x="488.4" y="280.5" width="0.8" height="0.8" fill="#7a2a9a"/>
<rect x="491.1" y="275" width="0.6" height="0.6" fill="#7a2a9a"/>
<rect x="494.9" y="300" width="0.9" height="0.9" fill="#5a4aa0"/>
<rect x="496" y="298" width="1.1" height="1.1" fill="#3a2a80"/>
<rect x="492.6" y="268.7" width="0.9" height="0.9" fill="#d28fbf"/>
<rect x="478" y="265.6" width="0.8" height="0.8" fill="#9a4a9c"/>
<rect x="501.9" y="312.7" width="0.8" height="0.8" fill="#2c2070"/>
<rect x="487.8" y="282.9" width="0.9" height="0.9" fill="#7a2a9a"/>
<rect x="492.9" y="297.8" width="0.8" height="0.8" fill="#5a4aa0"/>
<rect x="499.7" y="315.5" width="1" height="1" fill="#4a3a90"/>
<rect x="495.8" y="286.8" width="0.6" height="0.6" fill="#5a2a8a"/>
<rect x="490.4" y="284.4" width="0.7" height="0.7" fill="#9a50b0"/>
<rect x="502.5" y="316.2" width="1.1" height="1.1" fill="#4a3a90"/>
<rect x="501.9" y="278.6" width="0.7" height="0.7" fill="#7a2a9a"/>
<rect x="500.1" y="301.9" width="1" height="1" fill="#4a3a90"/>
<rect x="492.4" y="286.6" width="1" height="1" fill="#5a2a8a"/>
<rect x="496.4" y="296.8" width="1.1" height="1.1" fill="#5a4aa0"/>
<rect x="506.7" y="297.4" width="0.9" height="0.9" fill="#4a3a90"/>
<rect x="497.1" y="300.4" width="0.7" height="0.7" fill="#5a4aa0"/>
<rect x="475.9" y="318" width="0.6" height="0.6" fill="#3a2a80"/>
<rect x="464.3" y="310" width="1.1" height="1.1" fill="#3a2a80"/>
<rect x="482.4" y="316.2" width="1" height="1" fill="#5a4aa0"/>
<rect x="508.6" y="312.3" width="0.7" height="0.7" fill="#4a3a90"/>
<rect x="481.4" y="314.4" width="0.9" height="0.9" fill="#2c2070"/>
<rect x="494.4" y="281.6" width="1.1" height="1.1" fill="#9a50b0"/>
<rect x="463.2" y="263" width="1" height="1" fill="#c57ab5"/>
<rect x="504.3" y="311.3" width="0.6" height="0.6" fill="#4a3a90"/>
<rect x="485.8" y="283.3" width="0.7" height="0.7" fill="#f0e0f0"/>
<rect x="491.2" y="273.5" width="1.1" height="1.1" fill="#5a2a8a"/>
<rect x="501.4" y="288.1" width="1.1" height="1.1" fill="#7a2a9a"/>
<rect x="503.9" y="311.5" width="1" height="1" fill="#2c2070"/>
<rect x="494.8" y="277.8" width="0.9" height="0.9" fill="#5a2a8a"/>
<rect x="477.1" y="310.3" width="0.7" height="0.7" fill="#f0e0f0"/>
<rect x="493" y="293" width="1" height="1" fill="#8a3aa8"/>
<rect x="488.7" y="290.6" width="1.1" height="1.1" fill="#7a2a9a"/>
<rect x="493.6" y="297.5" width="0.8" height="0.8" fill="#2c2070"/>
<rect x="487.3" y="266.4" width="0.9" height="0.9" fill="#e2a0b5"/>
<rect x="499.3" y="279.4" width="1.1" height="1.1" fill="#8a3aa8"/>
<rect x="483.8" y="264.3" width="0.8" height="0.8" fill="#c57ab5"/>
<rect x="472.1" y="307.6" width="0.7" height="0.7" fill="#f0e0f0"/>
<rect x="486.4" y="318" width="0.7" height="0.7" fill="#2c2070"/>
<rect x="491.6" y="289.1" width="1" height="1" fill="#8a3aa8"/>
<rect x="491.8" y="264.5" width="0.6" height="0.6" fill="#c57ab5"/>
<rect x="493.3" y="296" width="0.8" height="0.8" fill="#2c2070"/>
<rect x="494.7" y="273.9" width="0.7" height="0.7" fill="#7a2a9a"/>
<rect x="504.3" y="302" width="0.8" height="0.8" fill="#2c2070"/>
<rect x="498.4" y="282.2" width="0.7" height="0.7" fill="#5a2a8a"/>
<rect x="463" y="311.2" width="1" height="1" fill="#3a2a80"/>
<rect x="486.1" y="294.9" width="0.7" height="0.7" fill="#f0e0f0"/>
<rect x="496.6" y="316.2" width="0.9" height="0.9" fill="#4a3a90"/>
<rect x="496.3" y="275.7" width="0.7" height="0.7" fill="#5a2a8a"/>
<rect x="509.4" y="277.3" width="0.9" height="0.9" fill="#5a2a8a"/>
<rect x="491.8" y="291" width="0.7" height="0.7" fill="#9a50b0"/>
<rect x="484.4" y="277.2" width="0.7" height="0.7" fill="#f0e0f0"/>
<rect x="490.5" y="275.7" width="0.8" height="0.8" fill="#5a2a8a"/>
<rect x="497.1" y="297.8" width="0.8" height="0.8" fill="#4a3a90"/>
<rect x="489.3" y="282.5" width="0.9" height="0.9" fill="#9a50b0"/>
<rect x="494.9" y="265.1" width="0.8" height="0.8" fill="#b060a8"/>
<rect x="495.7" y="268.4" width="0.9" height="0.9" fill="#9a4a9c"/>
<rect x="486" y="266.1" width="0.7" height="0.7" fill="#9a4a9c"/>
<rect x="498" y="298.6" width="1" height="1" fill="#3a2a80"/>
<rect x="487" y="316.4" width="1" height="1" fill="#3a2a80"/>
<rect x="492.1" y="259.2" width="1" height="1" fill="#b060a8"/>
<rect x="501.2" y="313.2" width="0.7" height="0.7" fill="#4a3a90"/>
<rect x="507.9" y="311" width="1" height="1" fill="#5a4aa0"/>
<rect x="491.8" y="291.9" width="0.7" height="0.7" fill="#8a3aa8"/>
<rect x="503.5" y="303.1" width="0.7" height="0.7" fill="#5a4aa0"/>
<rect x="499.2" y="280.2" width="1" height="1" fill="#8a3aa8"/>
<rect x="505.2" y="304.1" width="0.9" height="0.9" fill="#5a4aa0"/>
<rect x="490.2" y="289.4" width="0.8" height="0.8" fill="#8a3aa8"/>
<rect x="497.9" y="267.8" width="0.9" height="0.9" fill="#e2a0b5"/>
<rect x="480.1" y="317.5" width="0.7" height="0.7" fill="#3a2a80"/>
<rect x="504.2" y="316" width="1" height="1" fill="#5a4aa0"/>
<rect x="492.5" y="265.3" width="0.8" height="0.8" fill="#9a4a9c"/>
<rect x="493.2" y="269.3" width="0.7" height="0.7" fill="#e2a0b5"/>
<rect x="488.3" y="263" width="1" height="1" fill="#e2a0b5"/>
<rect x="499.4" y="298.7" width="0.6" height="0.6" fill="#2c2070"/>
<rect x="485.6" y="314.8" width="0.9" height="0.9" fill="#3a2a80"/>
<rect x="501.3" y="305.1" width="0.8" height="0.8" fill="#4a3a90"/>
<rect x="495.1" y="281.9" width="0.8" height="0.8" fill="#5a2a8a"/>
<rect x="492" y="318.8" width="0.6" height="0.6" fill="#3a2a80"/>
<rect x="504.6" y="315.9" width="0.7" height="0.7" fill="#3a2a80"/>
<rect x="492.9" y="282.6" width="0.7" height="0.7" fill="#5a2a8a"/>
<rect x="505" y="304.2" width="1.1" height="1.1" fill="#2c2070"/>
<rect x="495.7" y="273.9" width="0.7" height="0.7" fill="#7a2a9a"/>
<rect x="478.7" y="263" width="0.6" height="0.6" fill="#e2a0b5"/>
<rect x="490.7" y="275.5" width="1.1" height="1.1" fill="#9a50b0"/>
<rect x="505" y="277.4" width="1" height="1" fill="#5a2a8a"/>
<rect x="486.9" y="316.6" width="0.7" height="0.7" fill="#3a2a80"/>
<rect x="499.4" y="292.9" width="1.1" height="1.1" fill="#9a50b0"/>
<rect x="467.8" y="265.2" width="0.7" height="0.7" fill="#c57ab5"/>
<rect x="501.4" y="314.3" width="0.8" height="0.8" fill="#2c2070"/>
<rect x="477.3" y="315.7" width="0.7" height="0.7" fill="#3a2a80"/>
<rect x="488.5" y="285.4" width="0.9" height="0.9" fill="#5a2a8a"/>
<rect x="493.7" y="305.8" width="0.7" height="0.7" fill="#f0e0f0"/>
<rect x="492.6" y="270.1" width="0.9" height="0.9" fill="#d28fbf"/>
<rect x="494.1" y="268.5" width="0.8" height="0.8" fill="#c57ab5"/>
<rect x="493.6" y="293.1" width="0.7" height="0.7" fill="#8a3aa8"/>
<rect x="483.6" y="319.6" width="0.8" height="0.8" fill="#5a4aa0"/>
<rect x="456.4" y="302.4" width="0.7" height="0.7" fill="#f0e0f0"/>
<rect x="495.9" y="280.5" width="1" height="1" fill="#7a2a9a"/>
<rect x="501.9" y="307.7" width="1.1" height="1.1" fill="#3a2a80"/>
<rect x="490.4" y="319.7" width="0.9" height="0.9" fill="#5a4aa0"/>
<rect x="494.7" y="272.7" width="0.9" height="0.9" fill="#7a2a9a"/>
<rect x="485.4" y="282.5" width="0.7" height="0.7" fill="#f0e0f0"/>
<rect x="499.8" y="315.9" width="1.1" height="1.1" fill="#2c2070"/>
<rect x="493" y="286.9" width="0.8" height="0.8" fill="#7a2a9a"/>
<rect x="499" y="268.2" width="0.8" height="0.8" fill="#e2a0b5"/>
<rect x="500.5" y="306.7" width="0.6" height="0.6" fill="#2c2070"/>
<rect x="502.6" y="309.3" width="1.1" height="1.1" fill="#4a3a90"/>
<rect x="497.8" y="303" width="1" height="1" fill="#5a4aa0"/>
<rect x="488.7" y="281.5" width="0.8" height="0.8" fill="#8a3aa8"/>
<rect x="492" y="279.4" width="0.9" height="0.9" fill="#7a2a9a"/>
<rect x="493.8" y="296.3" width="0.8" height="0.8" fill="#2c2070"/>
<rect x="481.5" y="264.6" width="0.7" height="0.7" fill="#b060a8"/>
<rect x="486.8" y="273.6" width="0.7" height="0.7" fill="#f0e0f0"/>
<rect x="501.4" y="304.3" width="0.7" height="0.7" fill="#2c2070"/>
<rect x="493.5" y="298.4" width="1.1" height="1.1" fill="#5a4aa0"/>
<rect x="460.7" y="263.8" width="0.8" height="0.8" fill="#e2a0b5"/>
<rect x="494.1" y="263.6" width="0.8" height="0.8" fill="#d28fbf"/>
<rect x="494.8" y="297" width="0.9" height="0.9" fill="#4a3a90"/>
<rect x="487.3" y="272.3" width="0.7" height="0.7" fill="#f0e0f0"/>
<rect x="502.3" y="286.5" width="1" height="1" fill="#9a50b0"/>
<rect x="495.3" y="295.2" width="0.8" height="0.8" fill="#5a2a8a"/>
<rect x="488.4" y="264" width="0.8" height="0.8" fill="#b060a8"/>
<rect x="461.8" y="308.4" width="1.1" height="1.1" fill="#5a4aa0"/>
<rect x="488.8" y="278.4" width="1" height="1" fill="#9a50b0"/>
<rect x="507.9" y="304.1" width="0.9" height="0.9" fill="#5a4aa0"/>
<rect x="456.6" y="298.5" width="0.7" height="0.7" fill="#f0e0f0"/>
<rect x="501.4" y="309.7" width="1.1" height="1.1" fill="#2c2070"/>
<rect x="482.7" y="314.4" width="0.9" height="0.9" fill="#4a3a90"/>
<rect x="501.9" y="276.3" width="0.8" height="0.8" fill="#5a2a8a"/>
<rect x="461.6" y="306.9" width="0.8" height="0.8" fill="#2c2070"/>
<rect x="503.3" y="274.5" width="0.9" height="0.9" fill="#5a2a8a"/>
<rect x="480.2" y="260.2" width="0.9" height="0.9" fill="#c57ab5"/>
<rect x="478.7" y="315.3" width="1.1" height="1.1" fill="#4a3a90"/>
<rect x="487.4" y="263.7" width="0.8" height="0.8" fill="#e2a0b5"/>
<rect x="504.7" y="298.3" width="1" height="1" fill="#2c2070"/>
<rect x="500.9" y="302.9" width="0.9" height="0.9" fill="#2c2070"/>
<rect x="473.3" y="265.7" width="0.7" height="0.7" fill="#b060a8"/>
<rect x="505" y="303.2" width="1.1" height="1.1" fill="#4a3a90"/>
<rect x="486.1" y="264.7" width="0.7" height="0.7" fill="#b060a8"/>
<rect x="497.2" y="300.9" width="0.8" height="0.8" fill="#2c2070"/>
<rect x="490.4" y="261.7" width="0.6" height="0.6" fill="#d28fbf"/>
<rect x="458.8" y="304.5" width="0.7" height="0.7" fill="#f0e0f0"/>
<rect x="487.9" y="262.9" width="0.6" height="0.6" fill="#d28fbf"/>
<rect x="458.4" y="263.5" width="0.7" height="0.7" fill="#9a4a9c"/>
<rect x="486.3" y="314.9" width="1.1" height="1.1" fill="#3a2a80"/>
<rect x="495.2" y="265.5" width="0.6" height="0.6" fill="#9a4a9c"/>
<rect x="465.7" y="311.1" width="0.8" height="0.8" fill="#5a4aa0"/>
<rect x="489.3" y="277.7" width="1" height="1" fill="#7a2a9a"/>
<rect x="475.7" y="265.6" width="0.7" height="0.7" fill="#e2a0b5"/>
<rect x="479.3" y="318.6" width="1" height="1" fill="#5a4aa0"/>
<rect x="496.1" y="304.7" width="0.7" height="0.7" fill="#f0e0f0"/>
<rect x="499.2" y="291.2" width="0.7" height="0.7" fill="#7a2a9a"/>
<rect x="491.7" y="287.9" width="0.9" height="0.9" fill="#9a50b0"/>
<rect x="493.8" y="293.9" width="0.6" height="0.6" fill="#8a3aa8"/>
<rect x="481.8" y="264" width="0.6" height="0.6" fill="#d28fbf"/>
<rect x="468.3" y="264.9" width="0.8" height="0.8" fill="#c57ab5"/>
<rect x="489.7" y="278" width="0.7" height="0.7" fill="#7a2a9a"/>
<rect x="483" y="317" width="0.9" height="0.9" fill="#2c2070"/>
<rect x="488.9" y="263.2" width="0.8" height="0.8" fill="#9a4a9c"/>
<rect x="491.7" y="275.6" width="1" height="1" fill="#5a2a8a"/>
<rect x="496.8" y="313.6" width="0.8" height="0.8" fill="#5a4aa0"/>
<rect x="477.7" y="314.4" width="0.7" height="0.7" fill="#4a3a90"/>
<rect x="504.5" y="290.5" width="0.9" height="0.9" fill="#8a3aa8"/>
<rect x="495.1" y="295" width="0.8" height="0.8" fill="#8a3aa8"/>
<rect x="494.6" y="291.4" width="1" height="1" fill="#9a50b0"/>
<rect x="505.2" y="306.3" width="1.1" height="1.1" fill="#3a2a80"/>
<rect x="506.7" y="302.2" width="0.8" height="0.8" fill="#4a3a90"/>
<rect x="493.6" y="283.1" width="0.9" height="0.9" fill="#7a2a9a"/>
<rect x="495.6" y="286.5" width="1" height="1" fill="#5a2a8a"/>
<rect x="485.6" y="313.9" width="0.7" height="0.7" fill="#4a3a90"/>
<rect x="493.1" y="271.9" width="0.6" height="0.6" fill="#9a50b0"/>
<rect x="489" y="274.4" width="0.7" height="0.7" fill="#f0e0f0"/>
<rect x="493.1" y="316.1" width="0.9" height="0.9" fill="#4a3a90"/>
<rect x="486.8" y="308.9" width="0.7" height="0.7" fill="#f0e0f0"/>
<rect x="492.6" y="297.2" width="0.8" height="0.8" fill="#5a4aa0"/>
<rect x="494.2" y="273.6" width="1" height="1" fill="#8a3aa8"/>
<rect x="501.9" y="308.6" width="0.8" height="0.8" fill="#5a4aa0"/>
<rect x="482.4" y="318.7" width="0.6" height="0.6" fill="#3a2a80"/>
<rect x="492.6" y="269.4" width="0.9" height="0.9" fill="#9a4a9c"/>
<rect x="484.9" y="261" width="0.9" height="0.9" fill="#d28fbf"/>
<rect x="497.2" y="302.9" width="0.9" height="0.9" fill="#2c2070"/>
<rect x="482.5" y="289.1" width="0.7" height="0.7" fill="#f0e0f0"/>
<rect x="490.9" y="274.5" width="0.6" height="0.6" fill="#7a2a9a"/>
<rect x="489.7" y="261.4" width="1.1" height="1.1" fill="#d28fbf"/>
<rect x="503.5" y="301.4" width="0.7" height="0.7" fill="#2c2070"/>
<rect x="505.2" y="319" width="1" height="1" fill="#4a3a90"/>
<rect x="489.7" y="275.7" width="1" height="1" fill="#8a3aa8"/>
<rect x="507.2" y="307.4" width="0.7" height="0.7" fill="#4a3a90"/>
<rect x="500.6" y="273.7" width="0.8" height="0.8" fill="#5a2a8a"/>
<rect x="494.3" y="288.6" width="1" height="1" fill="#9a50b0"/>
<rect x="499.8" y="316.2" width="0.8" height="0.8" fill="#5a4aa0"/>
<rect x="464.7" y="303.2" width="0.7" height="0.7" fill="#f0e0f0"/>
<rect x="497.3" y="279.8" width="0.9" height="0.9" fill="#7a2a9a"/>
<rect x="497.7" y="266.5" width="0.8" height="0.8" fill="#c57ab5"/>
<rect x="502.6" y="315.2" width="1" height="1" fill="#2c2070"/>
<rect x="506.2" y="312.5" width="1" height="1" fill="#3a2a80"/>
<rect x="490.5" y="279.8" width="0.6" height="0.6" fill="#8a3aa8"/>
<rect x="488" y="283.1" width="1" height="1" fill="#9a50b0"/>
<rect x="504.6" y="302.1" width="1" height="1" fill="#2c2070"/>
<rect x="491.5" y="266.7" width="1.1" height="1.1" fill="#b060a8"/>
<rect x="501.2" y="300.8" width="0.7" height="0.7" fill="#2c2070"/>
<rect x="506.6" y="308.4" width="1" height="1" fill="#3a2a80"/>
<rect x="503.4" y="302.9" width="0.7" height="0.7" fill="#2c2070"/>
<rect x="490.2" y="293.1" width="0.7" height="0.7" fill="#9a50b0"/>
<rect x="491" y="262.5" width="0.8" height="0.8" fill="#9a4a9c"/>
<rect x="492.4" y="312.1" width="0.7" height="0.7" fill="#f0e0f0"/>
<rect x="501.9" y="309.2" width="0.9" height="0.9" fill="#2c2070"/>
<rect x="493.8" y="316.5" width="0.7" height="0.7" fill="#5a4aa0"/>
<rect x="497.8" y="265.1" width="1" height="1" fill="#c57ab5"/>
<rect x="486.7" y="279.7" width="0.7" height="0.7" fill="#f0e0f0"/>
<rect x="480.3" y="263" width="0.7" height="0.7" fill="#d28fbf"/>
<rect x="492.5" y="281.7" width="0.8" height="0.8" fill="#8a3aa8"/>
<rect x="483" y="264.5" width="0.7" height="0.7" fill="#b060a8"/>
<rect x="484.8" y="283.3" width="0.7" height="0.7" fill="#f0e0f0"/>
<rect x="467.2" y="309.7" width="0.8" height="0.8" fill="#4a3a90"/>
<rect x="497.4" y="284.6" width="0.6" height="0.6" fill="#8a3aa8"/>
<rect x="491.6" y="284.3" width="0.8" height="0.8" fill="#8a3aa8"/>
<rect x="496.4" y="291.6" width="0.7" height="0.7" fill="#5a2a8a"/>
<rect x="459.9" y="301.6" width="0.7" height="0.7" fill="#f0e0f0"/>
<rect x="500.1" y="305.2" width="0.7" height="0.7" fill="#2c2070"/>
<rect x="486.5" y="314.9" width="0.9" height="0.9" fill="#2c2070"/>
<rect x="495.9" y="299.9" width="0.8" height="0.8" fill="#3a2a80"/>
<rect x="480.2" y="256.4" width="0.9" height="0.9" fill="#e2a0b5"/>
<rect x="490.1" y="297.3" width="0.7" height="0.7" fill="#f0e0f0"/>
<rect x="499.1" y="299.2" width="1" height="1" fill="#4a3a90"/>
<rect x="490.2" y="293.4" width="0.7" height="0.7" fill="#7a2a9a"/>
<rect x="485.8" y="311.5" width="0.7" height="0.7" fill="#f0e0f0"/>
<rect x="499.7" y="304.9" width="0.6" height="0.6" fill="#4a3a90"/>
<rect x="501.3" y="307.4" width="0.8" height="0.8" fill="#5a4aa0"/>
<rect x="499.4" y="300.6" width="1.1" height="1.1" fill="#5a4aa0"/>
<rect x="492.2" y="262.9" width="0.8" height="0.8" fill="#d28fbf"/>
<rect x="495.1" y="291.7" width="0.8" height="0.8" fill="#5a2a8a"/>
<rect x="477.4" y="312.8" width="1.1" height="1.1" fill="#3a2a80"/>
<rect x="494.3" y="290.1" width="0.7" height="0.7" fill="#8a3aa8"/>
<rect x="489.9" y="257.6" width="1" height="1" fill="#e2a0b5"/>
<rect x="475.8" y="255.3" width="1" height="1" fill="#b060a8"/>
<rect x="507.1" y="308.5" width="0.8" height="0.8" fill="#4a3a90"/>
<text x="457.5" y="261.25" font-size="7.6" text-anchor="middle" fill="#222" stroke="#222" stroke-width="0.08">Activated</text>
<text x="464.5" y="321.25" font-size="7.6" text-anchor="middle" fill="#222" stroke="#222" stroke-width="0.08">Resting</text>
<text x="392.5" y="375" font-size="11" font-weight="bold">G</text>
<text x="429.5" y="376.25" font-size="7.6" stroke="#1a1a1a" stroke-width="0.08">T<tspan font-size="5.6" dy="2">REG</tspan><tspan dy="-2"> Subpopulations</tspan></text>
<line x1="413" y1="382.5" x2="413" y2="465" stroke="#222" stroke-width="1.3"/>
<line x1="410" y1="398.25" x2="413" y2="398.25" stroke="#222" stroke-width="0.8"/>
<text x="408.5" y="401.05" font-size="7.8" text-anchor="end" fill="#222" stroke="#222" stroke-width="0.08">3</text>
<line x1="410" y1="419.6" x2="413" y2="419.6" stroke="#222" stroke-width="0.8"/>
<text x="408.5" y="422.4" font-size="7.8" text-anchor="end" fill="#222" stroke="#222" stroke-width="0.08">2</text>
<line x1="410" y1="441" x2="413" y2="441" stroke="#222" stroke-width="0.8"/>
<text x="408.5" y="443.8" font-size="7.8" text-anchor="end" fill="#222" stroke="#222" stroke-width="0.08">1</text>
<line x1="410" y1="462.4" x2="413" y2="462.4" stroke="#222" stroke-width="0.8"/>
<text x="408.5" y="465.2" font-size="7.8" text-anchor="end" fill="#222" stroke="#222" stroke-width="0.08">0</text>
<line x1="413" y1="465" x2="514" y2="465" stroke="#222" stroke-width="1.3"/>
<line x1="432.5" y1="465" x2="432.5" y2="468" stroke="#222" stroke-width="0.8"/>
<text x="432.5" y="477.5" font-size="7.3" text-anchor="middle" fill="#222" stroke="#222" stroke-width="0.08">Pre Tx</text>
<line x1="463.25" y1="465" x2="463.25" y2="468" stroke="#222" stroke-width="0.8"/>
<text x="463.25" y="477.5" font-size="7.3" text-anchor="middle" fill="#222" stroke="#222" stroke-width="0.08">Day 8</text>
<line x1="495" y1="465" x2="495" y2="468" stroke="#222" stroke-width="0.8"/>
<text x="495" y="477.5" font-size="7.3" text-anchor="middle" fill="#222" stroke="#222" stroke-width="0.08">Week 6</text>
<text x="398.1" y="423.8" font-size="8.6" text-anchor="middle" fill="#222" transform="rotate(-90 398.1 423.8)" textLength="47.2" lengthAdjust="spacingAndGlyphs" stroke="#222" stroke-width="0.25">Log2 fold change</text>
<line x1="463.25" y1="441" x2="463.25" y2="452" stroke="#f6c343" stroke-width="0.9" stroke-dasharray="1.5,1"/>
<line x1="494.7" y1="446" x2="494.7" y2="456" stroke="#f6c343" stroke-width="0.9" stroke-dasharray="1.5,1"/>
<line x1="463.25" y1="441" x2="463.25" y2="455" stroke="#ee7a30" stroke-width="0.9" stroke-dasharray="1.5,1"/>
<line x1="494.7" y1="448" x2="494.7" y2="460" stroke="#ee7a30" stroke-width="0.9" stroke-dasharray="1.5,1"/>
<line x1="463.25" y1="426" x2="463.25" y2="447" stroke="#b5207a" stroke-width="0.9" stroke-dasharray="1.5,1"/>
<line x1="494.7" y1="430" x2="494.7" y2="452" stroke="#b5207a" stroke-width="0.9" stroke-dasharray="1.5,1"/>
<line x1="463.25" y1="424" x2="463.25" y2="440" stroke="#7a1f8c" stroke-width="0.9" stroke-dasharray="1.5,1"/>
<line x1="494.7" y1="432" x2="494.7" y2="452.7" stroke="#7a1f8c" stroke-width="0.9" stroke-dasharray="1.5,1"/>
<line x1="463.25" y1="398.2" x2="463.25" y2="449" stroke="#231a6e" stroke-width="0.9"/>
<line x1="494.7" y1="391.8" x2="494.7" y2="454" stroke="#231a6e" stroke-width="0.9"/>
<polyline points="431.8,440.9 463.25,446.6 494.7,451.3" stroke="#f6c343" stroke-width="1.7" fill="none" stroke-linejoin="round"/>
<circle cx="463.25" cy="446.6" r="1.4" fill="#f6c343"/>
<circle cx="494.7" cy="451.3" r="1.4" fill="#f6c343"/>
<polyline points="431.8,440.9 463.25,447.5 494.7,456.1" stroke="#ee7a30" stroke-width="1.7" fill="none" stroke-linejoin="round"/>
<circle cx="463.25" cy="447.5" r="1.4" fill="#ee7a30"/>
<circle cx="494.7" cy="456.1" r="1.4" fill="#ee7a30"/>
<polyline points="431.8,440.9 463.25,436.7 494.7,440.6" stroke="#b5207a" stroke-width="1.7" fill="none" stroke-linejoin="round"/>
<circle cx="463.25" cy="436.7" r="1.4" fill="#b5207a"/>
<circle cx="494.7" cy="440.6" r="1.4" fill="#b5207a"/>
<polyline points="431.8,440.9 463.25,431.6 494.7,440.6" stroke="#7a1f8c" stroke-width="1.7" fill="none" stroke-linejoin="round"/>
<circle cx="463.25" cy="431.6" r="1.4" fill="#7a1f8c"/>
<circle cx="494.7" cy="440.6" r="1.4" fill="#7a1f8c"/>
<polyline points="431.8,440.9 463.25,412 494.7,412" stroke="#231a6e" stroke-width="1.7" fill="none" stroke-linejoin="round"/>
<circle cx="463.25" cy="412" r="1.4" fill="#231a6e"/>
<circle cx="494.7" cy="412" r="1.4" fill="#231a6e"/>
<circle cx="431.8" cy="440.9" r="1.5" fill="#a02a80"/>
<circle cx="494.7" cy="440.6" r="1.9" fill="#8a1f8a"/>
<text x="6" y="521" font-size="11" font-weight="bold">H</text>
<text x="87.5" y="520" font-size="8.7" stroke="#1a1a1a" stroke-width="0.08">T<tspan font-size="6" dy="2">FH</tspan><tspan dy="-2"> cells</tspan></text>
<line x1="56" y1="528" x2="56" y2="611.25" stroke="#222" stroke-width="1.3"/>
<line x1="53" y1="533.25" x2="56" y2="533.25" stroke="#222" stroke-width="0.8"/>
<text x="51.5" y="536.05" font-size="7.8" text-anchor="end" fill="#222" stroke="#222" stroke-width="0.08">60</text>
<line x1="53" y1="557" x2="56" y2="557" stroke="#222" stroke-width="0.8"/>
<text x="51.5" y="559.8" font-size="7.8" text-anchor="end" fill="#222" stroke="#222" stroke-width="0.08">40</text>
<line x1="53" y1="580.75" x2="56" y2="580.75" stroke="#222" stroke-width="0.8"/>
<text x="51.5" y="583.55" font-size="7.8" text-anchor="end" fill="#222" stroke="#222" stroke-width="0.08">20</text>
<line x1="53" y1="604.5" x2="56" y2="604.5" stroke="#222" stroke-width="0.8"/>
<text x="51.5" y="607.3" font-size="7.8" text-anchor="end" fill="#222" stroke="#222" stroke-width="0.08">0</text>
<line x1="56" y1="611.25" x2="150" y2="611.25" stroke="#222" stroke-width="1.3"/>
<line x1="73.75" y1="611.25" x2="73.75" y2="614.25" stroke="#222" stroke-width="0.8"/>
<text x="73.75" y="623.75" font-size="7.3" text-anchor="middle" fill="#222" stroke="#222" stroke-width="0.08">Pre Tx</text>
<line x1="103.75" y1="611.25" x2="103.75" y2="614.25" stroke="#222" stroke-width="0.8"/>
<text x="103.75" y="623.75" font-size="7.3" text-anchor="middle" fill="#222" stroke="#222" stroke-width="0.08">Day 8</text>
<line x1="134" y1="611.25" x2="134" y2="614.25" stroke="#222" stroke-width="0.8"/>
<text x="134" y="623.75" font-size="7.3" text-anchor="middle" fill="#222" stroke="#222" stroke-width="0.08">Week 6</text>
<polyline points="73.75,547.5 103.75,586.25 134,596" stroke="#c8c8c8" stroke-width="0.6" fill="none"/>
<polyline points="73.75,558 103.75,588 134,594" stroke="#c8c8c8" stroke-width="0.6" fill="none"/>
<polyline points="73.75,565 103.75,590 134,590.7" stroke="#c8c8c8" stroke-width="0.6" fill="none"/>
<polyline points="73.75,571.25 103.75,592 134,598" stroke="#c8c8c8" stroke-width="0.6" fill="none"/>
<polyline points="73.75,577 103.75,595 134,600" stroke="#c8c8c8" stroke-width="0.6" fill="none"/>
<polyline points="73.75,595 103.75,598 134,602" stroke="#c8c8c8" stroke-width="0.6" fill="none"/>
<polyline points="73.75,600 103.75,600 134,595" stroke="#c8c8c8" stroke-width="0.6" fill="none"/>
<polyline points="73.75,604.5 103.75,602 134,597" stroke="#c8c8c8" stroke-width="0.6" fill="none"/>
<polyline points="73.75,583 103.75,604 134,603" stroke="#c8c8c8" stroke-width="0.6" fill="none"/>
<polyline points="73.75,590 103.75,596 134,570.5" stroke="#c8c8c8" stroke-width="0.6" fill="none"/>
<circle cx="73.75" cy="547.5" r="1.5" fill="#1a1a1a"/>
<circle cx="73.75" cy="558" r="1.5" fill="#1a1a1a"/>
<circle cx="73.75" cy="565" r="1.5" fill="#1a1a1a"/>
<circle cx="73.75" cy="571.25" r="1.5" fill="#1a1a1a"/>
<circle cx="73.75" cy="577" r="1.5" fill="#1a1a1a"/>
<circle cx="73.75" cy="595" r="1.5" fill="#1a1a1a"/>
<circle cx="73.75" cy="600" r="1.5" fill="#1a1a1a"/>
<circle cx="73.75" cy="604.5" r="1.5" fill="#1a1a1a"/>
<circle cx="73.75" cy="583" r="1.5" fill="#1a1a1a"/>
<circle cx="73.75" cy="590" r="1.5" fill="#1a1a1a"/>
<circle cx="103.75" cy="586.25" r="1.5" fill="#1a1a1a"/>
<circle cx="103.75" cy="588" r="1.5" fill="#1a1a1a"/>
<circle cx="103.75" cy="590" r="1.5" fill="#1a1a1a"/>
<circle cx="103.75" cy="592" r="1.5" fill="#1a1a1a"/>
<circle cx="103.75" cy="595" r="1.5" fill="#1a1a1a"/>
<circle cx="103.75" cy="598" r="1.5" fill="#1a1a1a"/>
<circle cx="103.75" cy="600" r="1.5" fill="#1a1a1a"/>
<circle cx="103.75" cy="602" r="1.5" fill="#1a1a1a"/>
<circle cx="103.75" cy="604" r="1.5" fill="#1a1a1a"/>
<circle cx="103.75" cy="596" r="1.5" fill="#1a1a1a"/>
<circle cx="134" cy="596" r="1.5" fill="#1a1a1a"/>
<circle cx="134" cy="594" r="1.5" fill="#1a1a1a"/>
<circle cx="134" cy="590.7" r="1.5" fill="#1a1a1a"/>
<circle cx="134" cy="598" r="1.5" fill="#1a1a1a"/>
<circle cx="134" cy="600" r="1.5" fill="#1a1a1a"/>
<circle cx="134" cy="602" r="1.5" fill="#1a1a1a"/>
<circle cx="134" cy="595" r="1.5" fill="#1a1a1a"/>
<circle cx="134" cy="597" r="1.5" fill="#1a1a1a"/>
<circle cx="134" cy="603" r="1.5" fill="#1a1a1a"/>
<circle cx="134" cy="570.5" r="1.5" fill="#1a1a1a"/>
<line x1="73.75" y1="547.5" x2="73.75" y2="573" stroke="#333" stroke-width="1.2"/>
<line x1="73.75" y1="598" x2="73.75" y2="604.5" stroke="#333" stroke-width="1.2"/>
<rect x="61.5" y="573" width="24.5" height="25" fill="#b3c48c" fill-opacity="0.82"/>
<line x1="61.5" y1="583.25" x2="86" y2="583.25" stroke="#3a4a26" stroke-width="1.4"/>
<line x1="103.9" y1="585.8" x2="103.9" y2="596.1" stroke="#333" stroke-width="1.2"/>
<line x1="103.9" y1="602" x2="103.9" y2="605.1" stroke="#333" stroke-width="1.2"/>
<rect x="92" y="596.1" width="23.8" height="5.9" fill="#5db3e6" fill-opacity="0.82"/>
<line x1="92" y1="600.6" x2="115.8" y2="600.6" stroke="#17466f" stroke-width="1.4"/>
<line x1="134.1" y1="590.7" x2="134.1" y2="594.3" stroke="#333" stroke-width="1.2"/>
<line x1="134.1" y1="602.8" x2="134.1" y2="605.1" stroke="#333" stroke-width="1.2"/>
<rect x="122.1" y="594.3" width="24" height="8.5" fill="#3b5e96" fill-opacity="0.82"/>
<line x1="122.1" y1="601.2" x2="146.1" y2="601.2" stroke="#17284e" stroke-width="1.4"/>
<circle cx="134.1" cy="570.5" r="1.6" fill="#1a1a1a"/>
<polyline points="73.75,539.3 73.75,537.8 134,537.8 134,539.3" stroke="#222" stroke-width="1.1" fill="none"/>
<text x="103.88" y="538.64" font-size="7" text-anchor="middle" fill="#222" stroke="#222" stroke-width="0.12">***</text>
<polyline points="73.75,546.5 73.75,545 103.75,545 103.75,546.5" stroke="#222" stroke-width="1.1" fill="none"/>
<text x="88.75" y="545.64" font-size="7" text-anchor="middle" fill="#222" stroke="#222" stroke-width="0.12">****</text>
<text x="25" y="570" font-size="8.6" text-anchor="middle" fill="#222" transform="rotate(-90 25 570)" textLength="76.8" lengthAdjust="spacingAndGlyphs" stroke="#222" stroke-width="0.25">Percentage of immune cells</text>
<text x="34.7" y="569.7" font-size="8.6" text-anchor="middle" fill="#222" transform="rotate(-90 34.7 569.7)" textLength="34" lengthAdjust="spacingAndGlyphs" stroke="#222" stroke-width="0.25">injected site</text>
<text x="266" y="520" font-size="8.9" text-anchor="middle" font-style="italic" stroke="#1a1a1a" stroke-width="0.08">IL4</text>
<line x1="218" y1="528.75" x2="218" y2="611" stroke="#222" stroke-width="1.3"/>
<line x1="215" y1="531.25" x2="218" y2="531.25" stroke="#222" stroke-width="0.8"/>
<text x="213.5" y="534.05" font-size="7.8" text-anchor="end" fill="#222" stroke="#222" stroke-width="0.08">0.8</text>
<line x1="215" y1="549.5" x2="218" y2="549.5" stroke="#222" stroke-width="0.8"/>
<text x="213.5" y="552.3" font-size="7.8" text-anchor="end" fill="#222" stroke="#222" stroke-width="0.08">0.6</text>
<line x1="215" y1="568" x2="218" y2="568" stroke="#222" stroke-width="0.8"/>
<text x="213.5" y="570.8" font-size="7.8" text-anchor="end" fill="#222" stroke="#222" stroke-width="0.08">0.4</text>
<line x1="215" y1="586.25" x2="218" y2="586.25" stroke="#222" stroke-width="0.8"/>
<text x="213.5" y="589.05" font-size="7.8" text-anchor="end" fill="#222" stroke="#222" stroke-width="0.08">0.2</text>
<line x1="215" y1="604.5" x2="218" y2="604.5" stroke="#222" stroke-width="0.8"/>
<text x="213.5" y="607.3" font-size="7.8" text-anchor="end" fill="#222" stroke="#222" stroke-width="0.08">0.0</text>
<line x1="218" y1="611" x2="312.5" y2="611" stroke="#222" stroke-width="1.3"/>
<line x1="236.25" y1="611" x2="236.25" y2="614" stroke="#222" stroke-width="0.8"/>
<text x="236.25" y="623.75" font-size="7.3" text-anchor="middle" fill="#222" stroke="#222" stroke-width="0.08">Pre Tx</text>
<line x1="265.5" y1="611" x2="265.5" y2="614" stroke="#222" stroke-width="0.8"/>
<text x="265.5" y="623.75" font-size="7.3" text-anchor="middle" fill="#222" stroke="#222" stroke-width="0.08">Day 8</text>
<line x1="295" y1="611" x2="295" y2="614" stroke="#222" stroke-width="0.8"/>
<text x="295" y="623.75" font-size="7.3" text-anchor="middle" fill="#222" stroke="#222" stroke-width="0.08">Week 6</text>
<polyline points="236.25,541.25 265.5,582.5 295,596.25" stroke="#c8c8c8" stroke-width="0.6" fill="none"/>
<polyline points="236.25,567 265.5,586.25 295,598" stroke="#c8c8c8" stroke-width="0.6" fill="none"/>
<polyline points="236.25,581.25 265.5,590 295,600" stroke="#c8c8c8" stroke-width="0.6" fill="none"/>
<polyline points="236.25,601.25 265.5,595 295,602" stroke="#c8c8c8" stroke-width="0.6" fill="none"/>
<polyline points="236.25,602 265.5,600 295,604" stroke="#c8c8c8" stroke-width="0.6" fill="none"/>
<polyline points="236.25,590 265.5,602 295,599" stroke="#c8c8c8" stroke-width="0.6" fill="none"/>
<polyline points="236.25,595 265.5,597 295,601" stroke="#c8c8c8" stroke-width="0.6" fill="none"/>
<polyline points="236.25,585 265.5,604 295,603" stroke="#c8c8c8" stroke-width="0.6" fill="none"/>
<circle cx="236.25" cy="567" r="1.5" fill="#1a1a1a"/>
<circle cx="236.25" cy="581.25" r="1.5" fill="#1a1a1a"/>
<circle cx="236.25" cy="601.25" r="1.5" fill="#1a1a1a"/>
<circle cx="236.25" cy="602" r="1.5" fill="#1a1a1a"/>
<circle cx="236.25" cy="590" r="1.5" fill="#1a1a1a"/>
<circle cx="236.25" cy="595" r="1.5" fill="#1a1a1a"/>
<circle cx="236.25" cy="585" r="1.5" fill="#1a1a1a"/>
<circle cx="236.25" cy="541.25" r="1.5" fill="#fff" stroke="#333" stroke-width="0.8"/>
<circle cx="265.5" cy="582.5" r="1.5" fill="#1a1a1a"/>
<circle cx="265.5" cy="586.25" r="1.5" fill="#1a1a1a"/>
<circle cx="265.5" cy="590" r="1.5" fill="#1a1a1a"/>
<circle cx="265.5" cy="595" r="1.5" fill="#1a1a1a"/>
<circle cx="265.5" cy="600" r="1.5" fill="#1a1a1a"/>
<circle cx="265.5" cy="602" r="1.5" fill="#1a1a1a"/>
<circle cx="265.5" cy="597" r="1.5" fill="#1a1a1a"/>
<circle cx="265.5" cy="604" r="1.5" fill="#1a1a1a"/>
<circle cx="295" cy="596.25" r="1.5" fill="#1a1a1a"/>
<circle cx="295" cy="598" r="1.5" fill="#1a1a1a"/>
<circle cx="295" cy="600" r="1.5" fill="#1a1a1a"/>
<circle cx="295" cy="602" r="1.5" fill="#1a1a1a"/>
<circle cx="295" cy="604" r="1.5" fill="#1a1a1a"/>
<circle cx="295" cy="599" r="1.5" fill="#1a1a1a"/>
<circle cx="295" cy="601" r="1.5" fill="#1a1a1a"/>
<circle cx="295" cy="603" r="1.5" fill="#1a1a1a"/>
<line x1="236.25" y1="567" x2="236.25" y2="581.75" stroke="#333" stroke-width="1.2"/>
<line x1="236.25" y1="599.5" x2="236.25" y2="602" stroke="#333" stroke-width="1.2"/>
<rect x="225.25" y="581.75" width="22" height="17.75" fill="#b3c48c" fill-opacity="0.82"/>
<line x1="225.25" y1="589.25" x2="247.25" y2="589.25" stroke="#3a4a26" stroke-width="1.4"/>
<line x1="265.5" y1="582.5" x2="265.5" y2="595.5" stroke="#333" stroke-width="1.2"/>
<line x1="265.5" y1="602.5" x2="265.5" y2="604" stroke="#333" stroke-width="1.2"/>
<rect x="253.88" y="595.5" width="23.25" height="7" fill="#5db3e6" fill-opacity="0.82"/>
<line x1="253.88" y1="602" x2="277.12" y2="602" stroke="#17466f" stroke-width="1.4"/>
<line x1="295" y1="596.25" x2="295" y2="600" stroke="#333" stroke-width="1.2"/>
<line x1="295" y1="603.75" x2="295" y2="604.5" stroke="#333" stroke-width="1.2"/>
<rect x="283.38" y="600" width="23.25" height="3.75" fill="#3b5e96" fill-opacity="0.82"/>
<line x1="283.38" y1="602" x2="306.62" y2="602" stroke="#17284e" stroke-width="1.4"/>
<polyline points="236.25,541 236.25,539.5 295,539.5 295,541" stroke="#222" stroke-width="1.1" fill="none"/>
<text x="265.62" y="538.24" font-size="7" text-anchor="middle" fill="#222" stroke="#222" stroke-width="0.12">***</text>
<text x="187.3" y="570.3" font-size="8.6" text-anchor="middle" fill="#222" transform="rotate(-90 187.3 570.3)" textLength="54.2" lengthAdjust="spacingAndGlyphs" stroke="#222" stroke-width="0.25">Average expression</text>
<text x="197.4" y="570.3" font-size="8.6" text-anchor="middle" fill="#222" transform="rotate(-90 197.4 570.3)" textLength="34" lengthAdjust="spacingAndGlyphs" stroke="#222" stroke-width="0.25">injected site</text>
<text x="339.5" y="521.25" font-size="11" font-weight="bold">I</text>
<text x="425.5" y="520.5" font-size="8.7" text-anchor="middle" stroke="#1a1a1a" stroke-width="0.08">Uninjected Site Abundance</text>
<text x="425.5" y="530.5" font-size="8.7" text-anchor="middle" stroke="#1a1a1a" stroke-width="0.08">vs Clinical Response</text>
<line x1="376.75" y1="539.5" x2="376.75" y2="611.25" stroke="#222" stroke-width="1.3"/>
<line x1="376.75" y1="611.25" x2="475" y2="611.25" stroke="#222" stroke-width="1.3"/>
<rect x="403.75" y="542" width="66.25" height="15.5" fill="#f0914a"/>
<rect x="410" y="559.5" width="60" height="15.5" fill="#fbd47c"/>
<rect x="392.5" y="577" width="77.5" height="15" fill="#e0563a"/>
<rect x="382" y="593.75" width="88" height="14.25" fill="#c8161f"/>
<line x1="373.75" y1="550.5" x2="376.75" y2="550.5" stroke="#222" stroke-width="0.8"/>
<line x1="373.75" y1="570.75" x2="376.75" y2="570.75" stroke="#222" stroke-width="0.8"/>
<line x1="373.75" y1="590.5" x2="376.75" y2="590.5" stroke="#222" stroke-width="0.8"/>
<line x1="373.75" y1="610.5" x2="376.75" y2="610.5" stroke="#222" stroke-width="0.8"/>
<line x1="386.5" y1="611.25" x2="386.5" y2="614.25" stroke="#222" stroke-width="0.8"/>
<text x="386.5" y="623.75" font-size="7.8" text-anchor="middle" fill="#222" stroke="#222" stroke-width="0.08">−0.8</text>
<line x1="408.1" y1="611.25" x2="408.1" y2="614.25" stroke="#222" stroke-width="0.8"/>
<text x="408.1" y="623.75" font-size="7.8" text-anchor="middle" fill="#222" stroke="#222" stroke-width="0.08">−0.6</text>
<line x1="429.7" y1="611.25" x2="429.7" y2="614.25" stroke="#222" stroke-width="0.8"/>
<text x="429.7" y="623.75" font-size="7.8" text-anchor="middle" fill="#222" stroke="#222" stroke-width="0.08">−0.4</text>
<line x1="451.3" y1="611.25" x2="451.3" y2="614.25" stroke="#222" stroke-width="0.8"/>
<text x="451.3" y="623.75" font-size="7.8" text-anchor="middle" fill="#222" stroke="#222" stroke-width="0.08">−0.2</text>
<text x="425.9" y="638" font-size="9.4" text-anchor="middle" fill="#222" textLength="60.8" lengthAdjust="spacingAndGlyphs" stroke="#222" stroke-width="0.25">Correlation coefficient</text>
<text x="371" y="550.5" font-size="7.8" text-anchor="end" fill="#222" stroke="#222" stroke-width="0.08">T<tspan font-size="5.5" dy="1.5">R1</tspan></text>
<text x="371" y="559" font-size="8" text-anchor="end" fill="#222" stroke="#222" stroke-width="0.08">Day 8</text>
<text x="371" y="570.2" font-size="7.8" text-anchor="end" fill="#222" stroke="#222" stroke-width="0.08">T<tspan font-size="5.5" dy="1.5">R1</tspan></text>
<text x="371" y="579.2" font-size="8" text-anchor="end" fill="#222" stroke="#222" stroke-width="0.08">Week 6</text>
<text x="371" y="589.5" font-size="7.8" text-anchor="end" fill="#222" stroke="#222" stroke-width="0.08">T<tspan font-size="5.5" dy="1.5">FH</tspan></text>
<text x="371" y="598.7" font-size="8" text-anchor="end" fill="#222" stroke="#222" stroke-width="0.08">Day 8</text>
<text x="371" y="608.5" font-size="7.8" text-anchor="end" fill="#222" stroke="#222" stroke-width="0.08">T<tspan font-size="5.5" dy="1.5">FH</tspan></text>
<text x="371" y="617" font-size="8" text-anchor="end" fill="#222" stroke="#222" stroke-width="0.08">Week 6</text>
<text x="479.5" y="561.25" font-size="8" fill="#222" stroke="#222" stroke-width="0.08">Neg log10</text>
<text x="479.5" y="570.5" font-size="8" fill="#222" stroke="#222" stroke-width="0.08"><tspan font-style="italic">P</tspan>-value</text>
<defs><linearGradient id="cb" x1="0" y1="0" x2="0" y2="1"><stop offset="0" stop-color="#b8131f"/><stop offset="0.35" stop-color="#e2482f"/><stop offset="0.7" stop-color="#f7b24a"/><stop offset="1" stop-color="#fde9a0"/></linearGradient></defs>
<rect x="479.5" y="576.25" width="5.5" height="32" fill="url(#cb)"/>
<text x="488" y="583" font-size="7.8" fill="#222" stroke="#222" stroke-width="0.08">3</text>
<text x="488" y="592" font-size="7.8" fill="#222" stroke="#222" stroke-width="0.08">2</text>
<text x="488" y="600.5" font-size="7.8" fill="#222" stroke="#222" stroke-width="0.08">1</text>
<text x="488" y="609" font-size="7.8" fill="#222" stroke="#222" stroke-width="0.08">0</text>
</svg></body></html>
